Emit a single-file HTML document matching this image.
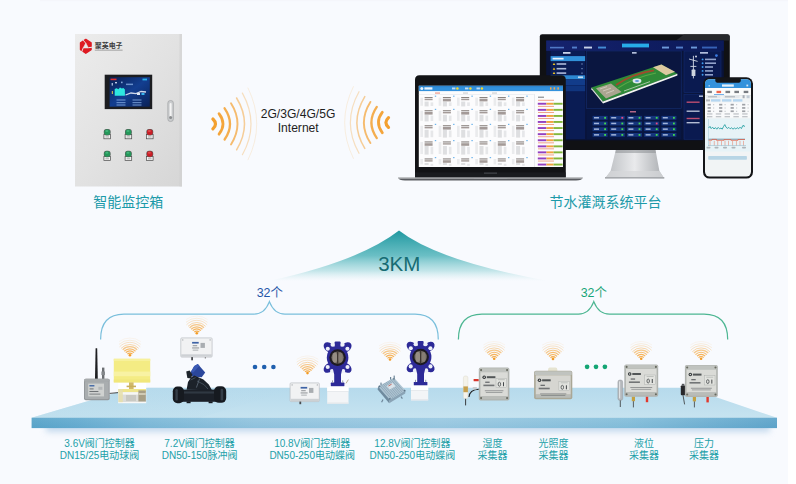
<!DOCTYPE html>
<html lang="zh"><head><meta charset="utf-8"><title>节水灌溉系统</title>
<style>
html,body{margin:0;padding:0;background:#fff;}
body{width:796px;height:484px;overflow:hidden;position:relative;font-family:"Liberation Sans",sans-serif;}
svg{position:absolute;left:0;top:0;display:block;}
svg text{font-family:"Liberation Sans","Noto Sans CJK SC",sans-serif;}
</style></head><body>
<svg width="796" height="484" viewBox="0 0 796 484"><defs>
<linearGradient id="gBox" x1="0" y1="0" x2="1" y2="1"><stop offset="0" stop-color="#ececec"/><stop offset="0.5" stop-color="#e2e2e2"/><stop offset="1" stop-color="#d6d6d6"/></linearGradient>
<linearGradient id="gScr" x1="0" y1="0" x2="1" y2="1"><stop offset="0" stop-color="#0a2054"/><stop offset="0.5" stop-color="#133e90"/><stop offset="1" stop-color="#0a2258"/></linearGradient>
<linearGradient id="gMtn" x1="0" y1="0" x2="0" y2="1"><stop offset="0" stop-color="#1f98a0"/><stop offset="0.5" stop-color="#5fbac0" stop-opacity="0.92"/><stop offset="0.8" stop-color="#a0d8dc" stop-opacity="0.6"/><stop offset="1" stop-color="#cfeaee" stop-opacity="0"/></linearGradient>
<linearGradient id="gTop" x1="0" y1="0" x2="0" y2="1"><stop offset="0" stop-color="#b6daec"/><stop offset="1" stop-color="#c6e3f0"/></linearGradient>
<linearGradient id="gFront" x1="0" y1="0" x2="1" y2="0"><stop offset="0" stop-color="#5aa5ca"/><stop offset="0.06" stop-color="#66acd0"/><stop offset="0.15" stop-color="#7db9d8"/><stop offset="0.3" stop-color="#94c5df"/><stop offset="0.55" stop-color="#9ccae2"/><stop offset="0.8" stop-color="#86bfdb"/><stop offset="1" stop-color="#5fa5cb"/></linearGradient>
<linearGradient id="gFrontV" x1="0" y1="0" x2="0" y2="1"><stop offset="0" stop-color="#ffffff" stop-opacity="0.06"/><stop offset="1" stop-color="#2a78a8" stop-opacity="0.06"/></linearGradient>
<linearGradient id="gTopL" x1="0" y1="0" x2="1" y2="0"><stop offset="0" stop-color="#b9dcec" stop-opacity="0.5"/><stop offset="1" stop-color="#b4d9ec" stop-opacity="0"/></linearGradient>
<filter id="fBlur" x="-5%" y="-100%" width="110%" height="300%"><feGaussianBlur stdDeviation="3"/></filter>
<linearGradient id="gShadow" x1="0" y1="0" x2="0" y2="1"><stop offset="0" stop-color="#a9cfe6" stop-opacity="0.8"/><stop offset="1" stop-color="#e6f0f8" stop-opacity="0"/></linearGradient>
<linearGradient id="gStand" x1="0" y1="0" x2="1" y2="0"><stop offset="0" stop-color="#b9bcc0"/><stop offset="0.5" stop-color="#e9eaec"/><stop offset="1" stop-color="#a9acb0"/></linearGradient>
<linearGradient id="gMon" x1="0" y1="0" x2="1" y2="1"><stop offset="0" stop-color="#07153a"/><stop offset="0.5" stop-color="#0a2050"/><stop offset="1" stop-color="#061234"/></linearGradient>
<linearGradient id="gGrey" x1="0" y1="0" x2="0" y2="1"><stop offset="0" stop-color="#c9cccb"/><stop offset="1" stop-color="#a9adac"/></linearGradient>
<radialGradient id="gMonGlow" cx="0.5" cy="0.55" r="0.6"><stop offset="0" stop-color="#1a3a8c" stop-opacity="0.35"/><stop offset="1" stop-color="#07102f" stop-opacity="0"/></radialGradient>
<linearGradient id="gMonHead" x1="0" y1="0" x2="1" y2="0"><stop offset="0" stop-color="#15236e"/><stop offset="0.5" stop-color="#101d62"/><stop offset="1" stop-color="#0b1a58"/></linearGradient>
</defs>
<rect x="0" y="0" width="788" height="484" fill="#f8fafe"/>
<rect x="788" y="0" width="8" height="484" fill="#ffffff"/>
<rect x="40" y="0" width="748" height="1.2" fill="#eef0f5" opacity="0.3"/>
<rect x="75" y="34" width="107" height="152.5" fill="url(#gBox)"/>
<rect x="179.5" y="34" width="2.5" height="152.5" fill="#d0d0d0" opacity="0.6"/>
<g transform="translate(85.8 46.3)"><path d="M5.28 3.45 L0.00 6.90 L-5.28 3.45 L-5.28 -3.45 L-0.00 -6.90 L5.28 -3.45Z" fill="#de1a22" stroke="#de1a22" stroke-width="1.4" stroke-linejoin="round"/><path d="M0.00 -3.30 L2.60 1.65 L-2.60 1.65Z" fill="#e9e9e9" stroke="#e9e9e9" stroke-width="0.6" stroke-linejoin="round"/><path d="M0 -3.0L-3.3 -7.0" stroke="#e9e9e9" stroke-width="0.9" transform="rotate(0)"/><path d="M0 -3.0L-3.3 -7.0" stroke="#e9e9e9" stroke-width="0.9" transform="rotate(120)"/><path d="M0 -3.0L-3.3 -7.0" stroke="#e9e9e9" stroke-width="0.9" transform="rotate(240)"/></g>
<text x="94.8" y="47.8" font-size="6.95" font-weight="bold" fill="#3c3c3c">聚英电子</text>
<rect x="94.8" y="49.6" width="27.8" height="1.2" fill="#6a6a6a" opacity="0.45"/>
<rect x="104.7" y="74.7" width="47.5" height="34.4" fill="#1c1d20"/>
<rect x="109.6" y="77.2" width="40.2" height="29.5" fill="url(#gScr)"/>
<path d="M114.7 95.8V89L116.6 88.2L118.4 89.2L120 87.6L121.8 88.6L123.4 88L124.9 89.4V95.8Z" fill="#2ee6e0"/>
<rect x="111.6" y="83" width="1.4" height="2.6" fill="#c8d6f0" opacity="0.8"/><rect x="115" y="82" width="2" height="1.4" fill="#dfe8fa" opacity="0.85"/><rect x="121" y="81.6" width="1.6" height="1.6" fill="#9fc0f0" opacity="0.8"/><rect x="126" y="83.6" width="7" height="1.5" fill="#7fa6de" opacity="0.8"/><rect x="111.8" y="91" width="1.2" height="3" fill="#e8d44a" opacity="0.8"/>
<rect x="110.5" y="78.6" width="6" height="1.6" fill="#e03030"/>
<rect x="142.5" y="78.6" width="4.5" height="1.8" fill="#28b0e8"/>
<path d="M125.5 95L131 93L136 93.6L141 91.5L146 92" stroke="#cfd8ea" stroke-width="1.3" fill="none"/>
<rect x="137" y="93" width="3" height="2" fill="#dfe8f5"/><rect x="141.5" y="93" width="3" height="2" fill="#38b6f0"/>
<rect x="116.5" y="99.4" width="9" height="1.2" fill="#7fa6de" opacity="0.75"/>
<rect x="116.5" y="102" width="9" height="1.2" fill="#7fa6de" opacity="0.75"/>
<rect x="116.5" y="104.4" width="9" height="1.2" fill="#7fa6de" opacity="0.75"/>
<rect x="132.5" y="99.4" width="9" height="1.2" fill="#7fa6de" opacity="0.75"/>
<rect x="132.5" y="102" width="9" height="1.2" fill="#7fa6de" opacity="0.75"/>
<rect x="132.5" y="104.4" width="9" height="1.2" fill="#7fa6de" opacity="0.75"/>
<rect x="167.8" y="100.5" width="5.6" height="21" rx="2.6" fill="#c9cbcd" stroke="#9a9c9e" stroke-width="0.6"/>
<rect x="169.6" y="103" width="2" height="14" rx="1" fill="#f4f4f4"/>
<circle cx="170.6" cy="117.5" r="1.5" fill="#8c8e90"/>
<rect x="103.9" y="134.6" width="6.6" height="4.2" fill="#f2f2f2" stroke="#4a4a4a" stroke-width="0.7"/>
<rect x="105.4" y="136.39999999999998" width="3.6" height="1.1" fill="#9a9a9a" opacity="0.7"/>
<rect x="103.8" y="129.0" width="6.8" height="6.4" rx="2.6" fill="#5a5f5c"/>
<rect x="104.3" y="129.39999999999998" width="5.8" height="5.6" rx="2.3" fill="#25975a"/>
<ellipse cx="106.8" cy="131.0" rx="1.5" ry="1" fill="#4fc088" opacity="0.7"/>
<rect x="103.9" y="156.4" width="6.6" height="4.2" fill="#f2f2f2" stroke="#4a4a4a" stroke-width="0.7"/>
<rect x="105.4" y="158.2" width="3.6" height="1.1" fill="#9a9a9a" opacity="0.7"/>
<rect x="103.8" y="150.8" width="6.8" height="6.4" rx="2.6" fill="#5a5f5c"/>
<rect x="104.3" y="151.2" width="5.8" height="5.6" rx="2.3" fill="#25975a"/>
<ellipse cx="106.8" cy="152.8" rx="1.5" ry="1" fill="#4fc088" opacity="0.7"/>
<rect x="125.10000000000001" y="134.6" width="6.6" height="4.2" fill="#f2f2f2" stroke="#4a4a4a" stroke-width="0.7"/>
<rect x="126.60000000000001" y="136.39999999999998" width="3.6" height="1.1" fill="#9a9a9a" opacity="0.7"/>
<rect x="125.0" y="129.0" width="6.8" height="6.4" rx="2.6" fill="#5a5f5c"/>
<rect x="125.5" y="129.39999999999998" width="5.8" height="5.6" rx="2.3" fill="#25975a"/>
<ellipse cx="128.0" cy="131.0" rx="1.5" ry="1" fill="#4fc088" opacity="0.7"/>
<rect x="125.10000000000001" y="156.4" width="6.6" height="4.2" fill="#f2f2f2" stroke="#4a4a4a" stroke-width="0.7"/>
<rect x="126.60000000000001" y="158.2" width="3.6" height="1.1" fill="#9a9a9a" opacity="0.7"/>
<rect x="125.0" y="150.8" width="6.8" height="6.4" rx="2.6" fill="#5a5f5c"/>
<rect x="125.5" y="151.2" width="5.8" height="5.6" rx="2.3" fill="#25975a"/>
<ellipse cx="128.0" cy="152.8" rx="1.5" ry="1" fill="#4fc088" opacity="0.7"/>
<rect x="146.5" y="134.6" width="6.6" height="4.2" fill="#f2f2f2" stroke="#4a4a4a" stroke-width="0.7"/>
<rect x="148.0" y="136.39999999999998" width="3.6" height="1.1" fill="#9a9a9a" opacity="0.7"/>
<rect x="146.4" y="129.0" width="6.8" height="6.4" rx="2.6" fill="#5a5f5c"/>
<rect x="146.9" y="129.39999999999998" width="5.8" height="5.6" rx="2.3" fill="#c81f28"/>
<ellipse cx="149.4" cy="131.0" rx="1.5" ry="1" fill="#ec5a5a" opacity="0.7"/>
<rect x="146.5" y="156.4" width="6.6" height="4.2" fill="#f2f2f2" stroke="#4a4a4a" stroke-width="0.7"/>
<rect x="148.0" y="158.2" width="3.6" height="1.1" fill="#9a9a9a" opacity="0.7"/>
<rect x="146.4" y="150.8" width="6.8" height="6.4" rx="2.6" fill="#5a5f5c"/>
<rect x="146.9" y="151.2" width="5.8" height="5.6" rx="2.3" fill="#c81f28"/>
<ellipse cx="149.4" cy="152.8" rx="1.5" ry="1" fill="#ec5a5a" opacity="0.7"/>
<text x="128.2" y="206.5" font-size="14" text-anchor="middle" fill="#1c9aa9">智能监控箱</text>
<path d="M212.9 119.0Q218.1 123.9 212.9 128.8" fill="none" stroke="#f3a030" stroke-width="3.2" stroke-linecap="round" opacity="1.0"/>
<path d="M388.5 117.6Q383.3 122.5 388.5 127.4" fill="none" stroke="#f3a030" stroke-width="3.2" stroke-linecap="round" opacity="1.0"/>
<path d="M219.0 113.6Q227.0 123.9 219.0 134.2" fill="none" stroke="#f3a030" stroke-width="2.7" stroke-linecap="round" opacity="0.95"/>
<path d="M382.4 112.2Q374.4 122.5 382.4 132.8" fill="none" stroke="#f3a030" stroke-width="2.7" stroke-linecap="round" opacity="0.95"/>
<path d="M224.6 108.3Q235.4 123.9 224.6 139.5" fill="none" stroke="#f3a030" stroke-width="2.3" stroke-linecap="round" opacity="0.85"/>
<path d="M376.8 106.9Q366.0 122.5 376.8 138.1" fill="none" stroke="#f3a030" stroke-width="2.3" stroke-linecap="round" opacity="0.85"/>
<path d="M231.0 103.3Q244.0 123.9 231.0 144.5" fill="none" stroke="#f3a030" stroke-width="1.9" stroke-linecap="round" opacity="0.7"/>
<path d="M370.4 101.9Q357.4 122.5 370.4 143.1" fill="none" stroke="#f3a030" stroke-width="1.9" stroke-linecap="round" opacity="0.7"/>
<path d="M236.6 98.0Q252.4 123.9 236.6 149.8" fill="none" stroke="#f3a030" stroke-width="1.5" stroke-linecap="round" opacity="0.5"/>
<path d="M364.8 96.6Q349.0 122.5 364.8 148.4" fill="none" stroke="#f3a030" stroke-width="1.5" stroke-linecap="round" opacity="0.5"/>
<path d="M242.4 93.1Q259.6 123.9 242.4 154.7" fill="none" stroke="#f3a030" stroke-width="1.2" stroke-linecap="round" opacity="0.3"/>
<path d="M359.0 91.7Q341.8 122.5 359.0 153.3" fill="none" stroke="#f3a030" stroke-width="1.2" stroke-linecap="round" opacity="0.3"/>
<path d="M248.0 88.0Q265.6 123.9 248.0 159.8" fill="none" stroke="#f3a030" stroke-width="1.0" stroke-linecap="round" opacity="0.15"/>
<path d="M353.4 86.6Q335.8 122.5 353.4 158.4" fill="none" stroke="#f3a030" stroke-width="1.0" stroke-linecap="round" opacity="0.15"/>
<text x="298" y="118.2" font-size="12.1" text-anchor="middle" fill="#1e1e1e">2G/3G/4G/5G</text>
<text x="298.2" y="131.7" font-size="12.1" text-anchor="middle" fill="#1e1e1e">Internet</text>
<rect x="539.8" y="34.2" width="190" height="115.8" rx="2.4" fill="#101114"/>
<path d="M684 34.6H727.6Q729.4 34.6 729.4 36.4V40.5H676Z" fill="#2a2b2f" opacity="0.9"/>
<rect x="546.2" y="40.5" width="177.6" height="99.8" fill="#091338"/>
<rect x="546.2" y="40.5" width="177.6" height="99.8" fill="url(#gMonGlow)"/>
<rect x="546.2" y="40.5" width="177.6" height="10.3" fill="url(#gMonHead)"/>
<rect x="622" y="43.6" width="27" height="3.8" fill="#29b4f0" opacity="0.95"/>
<rect x="550" y="46.8" width="14" height="1.6" fill="#5f8fdc" opacity="0.8"/>
<rect x="572" y="46.6" width="5" height="1.9" fill="#5f8fdc" opacity="0.85"/>
<rect x="584" y="46.6" width="8" height="1.9" fill="#e8f0ff" opacity="0.85"/>
<rect x="598" y="46.6" width="8" height="1.9" fill="#4fa0e8" opacity="0.85"/>
<rect x="662" y="46.6" width="7" height="1.9" fill="#7fb0f0" opacity="0.85"/>
<rect x="676" y="46.6" width="7" height="1.9" fill="#5f8fdc" opacity="0.85"/>
<rect x="691" y="46.6" width="6" height="1.9" fill="#7fb0f0" opacity="0.85"/>
<rect x="702" y="46.6" width="15" height="1.9" fill="#3f70c8" opacity="0.85"/>
<rect x="550.6" y="51" width="34.5" height="88" fill="#0a1c54"/>
<rect x="563" y="52" width="7.5" height="1.8" fill="#dfe8fa" opacity="0.9"/>
<rect x="550.6" y="56.1" width="34.5" height="5" fill="#3191da"/>
<rect x="552.6" y="57.8" width="11" height="1.7" fill="#eaf3fd"/>
<path d="M554 62.7L555.3 65H552.7Z" fill="#f4c81e"/><rect x="556.6" y="63.2" width="9.6" height="1.6" fill="#c9d6f0" opacity="0.85"/><rect x="581" y="63.5" width="2" height="1" fill="#7f98c8" opacity="0.7"/>
<path d="M554 67.4L555.3 69.7H552.7Z" fill="#f4c81e"/><rect x="556.6" y="67.9" width="9.6" height="1.6" fill="#c9d6f0" opacity="0.85"/><rect x="581" y="68.2" width="2" height="1" fill="#7f98c8" opacity="0.7"/>
<path d="M554 71.8L555.3 74.1H552.7Z" fill="#f4c81e"/><rect x="556.6" y="72.3" width="9.6" height="1.6" fill="#c9d6f0" opacity="0.85"/><rect x="581" y="72.6" width="2" height="1" fill="#7f98c8" opacity="0.7"/>
<rect x="550.6" y="75.3" width="34.5" height="4" fill="#2c88d2"/>
<rect x="578" y="76.4" width="5" height="1.7" fill="#cfe4f8" opacity="0.9"/>
<rect x="550.6" y="79.6" width="34.5" height="5.6" fill="#123c8a"/><rect x="550.6" y="85.6" width="34.5" height="5.6" fill="#10357e"/>
<rect x="586.6" y="51" width="94.6" height="57.6" fill="#0a1640" stroke="#16327a" stroke-width="0.5"/>
<rect x="632" y="52" width="4.6" height="1.7" fill="#d0dcf4" opacity="0.85"/>
<path d="M591.4 87.4L661.6 64.6L677.4 73.8L603 101.6Z" fill="#2f8a38"/>
<path d="M591.4 87.4L603 101.6L603 103.4L591.4 89.2Z" fill="#dfe5da"/>
<path d="M603 101.6L677.4 73.8L677.4 75.6L603 103.4Z" fill="#f4f6f0"/>
<path d="M653 67.3L661.4 64.6L675 71.8L666 75.2Z" fill="#dcc9a0"/>
<path d="M596 88.2L611 83.4L621.6 92L606 98.4Z" fill="#b8a79a" opacity="0.9"/>
<path d="M600 89L607 86.6M603 91L611 88.2M606 93.4L614 90.4" stroke="#d8cfc4" stroke-width="0.8"/>
<path d="M616 85Q632 74 654 70.4" stroke="#a04a2c" stroke-width="1.7" fill="none"/>
<path d="M618 88Q634 77.6 656 73" stroke="#63b04a" stroke-width="1.2" fill="none" opacity="0.8"/>
<ellipse cx="637" cy="81" rx="4.4" ry="2.4" fill="#dde6ee"/><ellipse cx="637" cy="81" rx="2" ry="1.1" fill="#5d95d8"/>
<path d="M624 91L650 81.6" stroke="#e6e9e0" stroke-width="0.8" opacity="0.8"/>
<rect x="586.6" y="109.6" width="94.6" height="29.6" fill="#081642"/>
<rect x="630" y="111" width="6" height="1.5" fill="#e07a9a" opacity="0.8"/>
<rect x="592.6" y="115.9" width="15" height="3.8" fill="#15357c"/>
<rect x="594.0" y="117.0" width="5" height="1.5" fill="#c5d4f0" opacity="0.8"/>
<rect x="604.2" y="116.9" width="1.8" height="1.8" fill="#42dc4c"/>
<rect x="609.8" y="115.9" width="15" height="3.8" fill="#15357c"/>
<rect x="611.2" y="117.0" width="5" height="1.5" fill="#c5d4f0" opacity="0.8"/>
<rect x="621.4" y="116.9" width="1.8" height="1.8" fill="#f04a80"/>
<rect x="627.0" y="115.9" width="15" height="3.8" fill="#15357c"/>
<rect x="628.4" y="117.0" width="5" height="1.5" fill="#c5d4f0" opacity="0.8"/>
<rect x="638.6" y="116.9" width="1.8" height="1.8" fill="#42dc4c"/>
<rect x="644.2" y="115.9" width="15" height="3.8" fill="#15357c"/>
<rect x="645.6" y="117.0" width="5" height="1.5" fill="#c5d4f0" opacity="0.8"/>
<rect x="655.8" y="116.9" width="1.8" height="1.8" fill="#42dc4c"/>
<rect x="661.4" y="115.9" width="15" height="3.8" fill="#15357c"/>
<rect x="662.8" y="117.0" width="5" height="1.5" fill="#c5d4f0" opacity="0.8"/>
<rect x="673.0" y="116.9" width="1.8" height="1.8" fill="#42dc4c"/>
<rect x="592.6" y="121.6" width="15" height="3.8" fill="#15357c"/>
<rect x="594.0" y="122.7" width="5" height="1.5" fill="#c5d4f0" opacity="0.8"/>
<rect x="604.2" y="122.6" width="1.8" height="1.8" fill="#42dc4c"/>
<rect x="609.8" y="121.6" width="15" height="3.8" fill="#15357c"/>
<rect x="611.2" y="122.7" width="5" height="1.5" fill="#c5d4f0" opacity="0.8"/>
<rect x="621.4" y="122.6" width="1.8" height="1.8" fill="#42dc4c"/>
<rect x="627.0" y="121.6" width="15" height="3.8" fill="#15357c"/>
<rect x="628.4" y="122.7" width="5" height="1.5" fill="#c5d4f0" opacity="0.8"/>
<rect x="638.6" y="122.6" width="1.8" height="1.8" fill="#42dc4c"/>
<rect x="644.2" y="121.6" width="15" height="3.8" fill="#15357c"/>
<rect x="645.6" y="122.7" width="5" height="1.5" fill="#c5d4f0" opacity="0.8"/>
<rect x="655.8" y="122.6" width="1.8" height="1.8" fill="#f04a80"/>
<rect x="661.4" y="121.6" width="15" height="3.8" fill="#15357c"/>
<rect x="662.8" y="122.7" width="5" height="1.5" fill="#c5d4f0" opacity="0.8"/>
<rect x="673.0" y="122.6" width="1.8" height="1.8" fill="#42dc4c"/>
<rect x="592.6" y="127.3" width="15" height="3.8" fill="#15357c"/>
<rect x="594.0" y="128.4" width="5" height="1.5" fill="#c5d4f0" opacity="0.8"/>
<rect x="604.2" y="128.3" width="1.8" height="1.8" fill="#42dc4c"/>
<rect x="609.8" y="127.3" width="15" height="3.8" fill="#15357c"/>
<rect x="611.2" y="128.4" width="5" height="1.5" fill="#c5d4f0" opacity="0.8"/>
<rect x="621.4" y="128.3" width="1.8" height="1.8" fill="#42dc4c"/>
<rect x="627.0" y="127.3" width="15" height="3.8" fill="#15357c"/>
<rect x="628.4" y="128.4" width="5" height="1.5" fill="#c5d4f0" opacity="0.8"/>
<rect x="638.6" y="128.3" width="1.8" height="1.8" fill="#42dc4c"/>
<rect x="644.2" y="127.3" width="15" height="3.8" fill="#15357c"/>
<rect x="645.6" y="128.4" width="5" height="1.5" fill="#c5d4f0" opacity="0.8"/>
<rect x="655.8" y="128.3" width="1.8" height="1.8" fill="#42dc4c"/>
<rect x="661.4" y="127.3" width="15" height="3.8" fill="#15357c"/>
<rect x="662.8" y="128.4" width="5" height="1.5" fill="#c5d4f0" opacity="0.8"/>
<rect x="673.0" y="128.3" width="1.8" height="1.8" fill="#42dc4c"/>
<rect x="592.6" y="133.0" width="15" height="3.8" fill="#15357c"/>
<rect x="594.0" y="134.1" width="5" height="1.5" fill="#c5d4f0" opacity="0.8"/>
<rect x="604.2" y="134.0" width="1.8" height="1.8" fill="#42dc4c"/>
<rect x="609.8" y="133.0" width="15" height="3.8" fill="#15357c"/>
<rect x="611.2" y="134.1" width="5" height="1.5" fill="#c5d4f0" opacity="0.8"/>
<rect x="621.4" y="134.0" width="1.8" height="1.8" fill="#42dc4c"/>
<rect x="627.0" y="133.0" width="15" height="3.8" fill="#15357c"/>
<rect x="628.4" y="134.1" width="5" height="1.5" fill="#c5d4f0" opacity="0.8"/>
<rect x="638.6" y="134.0" width="1.8" height="1.8" fill="#42dc4c"/>
<rect x="644.2" y="133.0" width="15" height="3.8" fill="#15357c"/>
<rect x="645.6" y="134.1" width="5" height="1.5" fill="#c5d4f0" opacity="0.8"/>
<rect x="655.8" y="134.0" width="1.8" height="1.8" fill="#42dc4c"/>
<rect x="661.4" y="133.0" width="15" height="3.8" fill="#15357c"/>
<rect x="662.8" y="134.1" width="5" height="1.5" fill="#c5d4f0" opacity="0.8"/>
<rect x="673.0" y="134.0" width="1.8" height="1.8" fill="#42dc4c"/>
<rect x="684" y="51" width="37" height="41.6" fill="#0a1a50" stroke="#142e74" stroke-width="0.5"/>
<rect x="700" y="52" width="8" height="1.7" fill="#d0dcf4" opacity="0.85"/>
<path d="M693.4 55.8V78.4M689 59L697.6 61.4M690.4 66.4H696.4" stroke="#d4dae6" stroke-width="0.9" fill="none"/>
<circle cx="696" cy="56.6" r="1" fill="#d4dae6"/><rect x="691.6" y="69.6" width="3.8" height="6.4" rx="0.6" fill="#cfd5df"/>
<circle cx="702.6" cy="59.4" r="0.95" fill="#3f9df0"/><rect x="705" y="58.6" width="11" height="1.6" fill="#b4c6ea" opacity="0.8"/>
<circle cx="702.6" cy="63.2" r="0.95" fill="#3f9df0"/><rect x="705" y="62.4" width="11" height="1.6" fill="#b4c6ea" opacity="0.8"/>
<circle cx="702.6" cy="67" r="0.95" fill="#3f9df0"/><rect x="705" y="66.2" width="8" height="1.6" fill="#b4c6ea" opacity="0.8"/>
<circle cx="702.6" cy="70.9" r="0.95" fill="#3f9df0"/><rect x="705" y="70.1" width="8" height="1.6" fill="#b4c6ea" opacity="0.8"/>
<circle cx="702.6" cy="74.8" r="0.95" fill="#3f9df0"/><rect x="705" y="74.0" width="8" height="1.6" fill="#b4c6ea" opacity="0.8"/>
<circle cx="716.4" cy="55.6" r="1.4" fill="#3a7be0"/>
<rect x="684" y="94.4" width="37" height="44.8" fill="#0a1a50" stroke="#142e74" stroke-width="0.5"/>
<rect x="699" y="95.4" width="8" height="1.6" fill="#d0dcf4" opacity="0.8"/>
<rect x="686.6" y="101.5" width="13" height="1.4" fill="#e85a78" opacity="0.8"/>
<rect x="686.6" y="110.5" width="13" height="1.4" fill="#dfe6f5" opacity="0.8"/>
<rect x="686.6" y="117.8" width="13" height="1.4" fill="#e85a78" opacity="0.8"/>
<rect x="686.6" y="122" width="13" height="1.4" fill="#dfe6f5" opacity="0.8"/>
<path d="M615.8 150H655.5L659.4 171L664.3 178.4H605L610.6 171Z" fill="url(#gStand)"/>
<path d="M615.8 150H655.5L656 153H615.3Z" fill="#8d9094" opacity="0.55"/>
<path d="M605 178.4L610.6 171H659.4L664.3 178.4Z" fill="#d5d7da" opacity="0.75"/>
<rect x="605" y="177" width="59.3" height="1.4" fill="#a5a8ac"/>
<path d="M415 177.4V79.8Q415 75.3 419.5 75.3H561.3Q565.8 75.3 565.8 79.8V177.4Z" fill="#121316"/>
<rect x="418.8" y="85.8" width="144.2" height="81.2" fill="#fcfcfd"/>
<rect x="418.8" y="85.8" width="144.2" height="5.3" fill="#3391dc"/>
<rect x="418.8" y="85.8" width="144.2" height="1.4" fill="#2a7fc8" opacity="0.6"/>
<circle cx="421.8" cy="88.4" r="1.5" fill="#eaf4fd"/><rect x="424.4" y="87.3" width="8" height="2.3" fill="#eaf4fd"/>
<rect x="452" y="87.5" width="3.4" height="1.9" fill="#d6e8f8" opacity="0.85"/><circle cx="457.4" cy="88.5" r="1.25" fill="#f5d830"/>
<rect x="465" y="87.5" width="3.4" height="1.9" fill="#d6e8f8" opacity="0.85"/><circle cx="470.4" cy="88.5" r="1.25" fill="#f5d830"/>
<rect x="476.5" y="87.5" width="3.4" height="1.9" fill="#d6e8f8" opacity="0.85"/><circle cx="481.9" cy="88.5" r="1.25" fill="#f5d830"/>
<rect x="550" y="87.3" width="1.5" height="2.3" fill="#f3a84a"/>
<rect x="553.6" y="87.3" width="1.5" height="2.3" fill="#f3a84a"/>
<rect x="557.4" y="87.3" width="1.5" height="2.3" fill="#f3a84a"/>
<rect x="435" y="92.6" width="5" height="0.9" fill="#e0563c" opacity="0.8"/><rect x="463" y="92.6" width="5" height="0.9" fill="#9a9ca0" opacity="0.6"/><rect x="492" y="92.6" width="5" height="0.9" fill="#9a9ca0" opacity="0.6"/>
<rect x="418.8" y="94.2" width="115" height="0.4" fill="#d8dde3"/>
<rect x="434.8" y="95.6" width="1.4" height="1.2" fill="#4aa3e8" opacity="0.8"/>
<rect x="424.6" y="97.0" width="8" height="1.1" fill="#6d6460" opacity="0.8"/>
<rect x="424.6" y="98.8" width="8" height="1.4" fill="#857a76" opacity="0.75"/>
<rect x="424.6" y="101.6" width="4" height="4.8" fill="#bfc1c6" opacity="0.5"/>
<rect x="430.6" y="102.4" width="2.6" height="3.6" fill="#cfd1d5" opacity="0.5"/>
<rect x="420.4" y="97.6" width="2.6" height="8.2" fill="#c8cacf" opacity="0.35"/>
<rect x="453.1" y="95.6" width="1.4" height="1.2" fill="#4aa3e8" opacity="0.8"/>
<rect x="442.9" y="97.0" width="8" height="1.1" fill="#6d6460" opacity="0.8"/>
<rect x="442.9" y="98.8" width="8" height="2.6" fill="#857a76" opacity="0.75"/>
<rect x="442.9" y="101.6" width="4" height="4.8" fill="#bfc1c6" opacity="0.5"/>
<rect x="448.9" y="102.4" width="2.6" height="3.6" fill="#cfd1d5" opacity="0.5"/>
<rect x="438.7" y="97.6" width="2.6" height="8.2" fill="#c8cacf" opacity="0.35"/>
<rect x="471.4" y="95.6" width="1.4" height="1.2" fill="#4aa3e8" opacity="0.8"/>
<rect x="461.2" y="97.0" width="8" height="1.1" fill="#6d6460" opacity="0.8"/>
<rect x="461.2" y="98.8" width="8" height="1.4" fill="#857a76" opacity="0.75"/>
<rect x="461.2" y="101.6" width="4" height="4.8" fill="#bfc1c6" opacity="0.5"/>
<rect x="467.2" y="102.4" width="2.6" height="3.6" fill="#cfd1d5" opacity="0.5"/>
<rect x="457.0" y="97.6" width="2.6" height="8.2" fill="#c8cacf" opacity="0.35"/>
<rect x="489.7" y="95.6" width="1.4" height="1.2" fill="#4aa3e8" opacity="0.8"/>
<rect x="479.5" y="97.0" width="8" height="1.1" fill="#6d6460" opacity="0.8"/>
<rect x="479.5" y="98.8" width="8" height="2.6" fill="#857a76" opacity="0.75"/>
<rect x="479.5" y="101.6" width="4" height="4.8" fill="#bfc1c6" opacity="0.5"/>
<rect x="485.5" y="102.4" width="2.6" height="3.6" fill="#cfd1d5" opacity="0.5"/>
<rect x="475.3" y="97.6" width="2.6" height="8.2" fill="#c8cacf" opacity="0.35"/>
<rect x="508.0" y="95.6" width="1.4" height="1.2" fill="#4aa3e8" opacity="0.8"/>
<rect x="497.8" y="97.0" width="8" height="1.1" fill="#6d6460" opacity="0.8"/>
<rect x="497.8" y="98.8" width="8" height="1.4" fill="#857a76" opacity="0.75"/>
<rect x="497.8" y="101.6" width="4" height="4.8" fill="#bfc1c6" opacity="0.5"/>
<rect x="503.8" y="102.4" width="2.6" height="3.6" fill="#cfd1d5" opacity="0.5"/>
<rect x="493.6" y="97.6" width="2.6" height="8.2" fill="#c8cacf" opacity="0.35"/>
<rect x="526.3" y="95.6" width="1.4" height="1.2" fill="#4aa3e8" opacity="0.8"/>
<rect x="516.1" y="97.0" width="8" height="1.1" fill="#6d6460" opacity="0.8"/>
<rect x="516.1" y="98.8" width="8" height="2.6" fill="#857a76" opacity="0.75"/>
<rect x="516.1" y="101.6" width="4" height="4.8" fill="#bfc1c6" opacity="0.5"/>
<rect x="522.1" y="102.4" width="2.6" height="3.6" fill="#cfd1d5" opacity="0.5"/>
<rect x="511.9" y="97.6" width="2.6" height="8.2" fill="#c8cacf" opacity="0.35"/>
<rect x="434.8" y="108.8" width="1.4" height="1.2" fill="#4aa3e8" opacity="0.8"/>
<rect x="424.6" y="110.2" width="8" height="1.1" fill="#6d6460" opacity="0.8"/>
<rect x="424.6" y="112.0" width="8" height="2.6" fill="#857a76" opacity="0.75"/>
<rect x="424.6" y="114.8" width="4" height="6.6" fill="#bfc1c6" opacity="0.5"/>
<rect x="430.6" y="115.6" width="2.6" height="5.4" fill="#cfd1d5" opacity="0.5"/>
<rect x="420.4" y="110.8" width="2.6" height="10.0" fill="#c8cacf" opacity="0.35"/>
<rect x="453.1" y="108.8" width="1.4" height="1.2" fill="#4aa3e8" opacity="0.8"/>
<rect x="442.9" y="110.2" width="8" height="1.1" fill="#6d6460" opacity="0.8"/>
<rect x="442.9" y="112.0" width="8" height="1.4" fill="#857a76" opacity="0.75"/>
<rect x="442.9" y="114.8" width="4" height="6.6" fill="#bfc1c6" opacity="0.5"/>
<rect x="448.9" y="115.6" width="2.6" height="5.4" fill="#cfd1d5" opacity="0.5"/>
<rect x="438.7" y="110.8" width="2.6" height="10.0" fill="#c8cacf" opacity="0.35"/>
<rect x="471.4" y="108.8" width="1.4" height="1.2" fill="#4aa3e8" opacity="0.8"/>
<rect x="461.2" y="110.2" width="8" height="1.1" fill="#6d6460" opacity="0.8"/>
<rect x="461.2" y="112.0" width="8" height="2.6" fill="#857a76" opacity="0.75"/>
<rect x="461.2" y="114.8" width="4" height="6.6" fill="#bfc1c6" opacity="0.5"/>
<rect x="467.2" y="115.6" width="2.6" height="5.4" fill="#cfd1d5" opacity="0.5"/>
<rect x="457.0" y="110.8" width="2.6" height="10.0" fill="#c8cacf" opacity="0.35"/>
<rect x="489.7" y="108.8" width="1.4" height="1.2" fill="#4aa3e8" opacity="0.8"/>
<rect x="479.5" y="110.2" width="8" height="1.1" fill="#6d6460" opacity="0.8"/>
<rect x="479.5" y="112.0" width="8" height="1.4" fill="#857a76" opacity="0.75"/>
<rect x="479.5" y="114.8" width="4" height="6.6" fill="#bfc1c6" opacity="0.5"/>
<rect x="485.5" y="115.6" width="2.6" height="5.4" fill="#cfd1d5" opacity="0.5"/>
<rect x="475.3" y="110.8" width="2.6" height="10.0" fill="#c8cacf" opacity="0.35"/>
<rect x="508.0" y="108.8" width="1.4" height="1.2" fill="#4aa3e8" opacity="0.8"/>
<rect x="497.8" y="110.2" width="8" height="1.1" fill="#6d6460" opacity="0.8"/>
<rect x="497.8" y="112.0" width="8" height="2.6" fill="#857a76" opacity="0.75"/>
<rect x="497.8" y="114.8" width="4" height="6.6" fill="#bfc1c6" opacity="0.5"/>
<rect x="503.8" y="115.6" width="2.6" height="5.4" fill="#cfd1d5" opacity="0.5"/>
<rect x="493.6" y="110.8" width="2.6" height="10.0" fill="#c8cacf" opacity="0.35"/>
<rect x="526.3" y="108.8" width="1.4" height="1.2" fill="#4aa3e8" opacity="0.8"/>
<rect x="516.1" y="110.2" width="8" height="1.1" fill="#6d6460" opacity="0.8"/>
<rect x="516.1" y="112.0" width="8" height="1.4" fill="#857a76" opacity="0.75"/>
<rect x="516.1" y="114.8" width="4" height="6.6" fill="#bfc1c6" opacity="0.5"/>
<rect x="522.1" y="115.6" width="2.6" height="5.4" fill="#cfd1d5" opacity="0.5"/>
<rect x="511.9" y="110.8" width="2.6" height="10.0" fill="#c8cacf" opacity="0.35"/>
<rect x="434.8" y="123.8" width="1.4" height="1.2" fill="#4aa3e8" opacity="0.8"/>
<rect x="424.6" y="125.2" width="8" height="1.1" fill="#6d6460" opacity="0.8"/>
<rect x="424.6" y="127.0" width="8" height="1.4" fill="#857a76" opacity="0.75"/>
<rect x="424.6" y="129.8" width="4" height="7.8" fill="#bfc1c6" opacity="0.5"/>
<rect x="430.6" y="130.6" width="2.6" height="6.6" fill="#cfd1d5" opacity="0.5"/>
<rect x="420.4" y="125.8" width="2.6" height="11.2" fill="#c8cacf" opacity="0.35"/>
<rect x="453.1" y="123.8" width="1.4" height="1.2" fill="#4aa3e8" opacity="0.8"/>
<rect x="442.9" y="125.2" width="8" height="1.1" fill="#6d6460" opacity="0.8"/>
<rect x="442.9" y="127.0" width="8" height="2.6" fill="#857a76" opacity="0.75"/>
<rect x="442.9" y="129.8" width="4" height="7.8" fill="#bfc1c6" opacity="0.5"/>
<rect x="448.9" y="130.6" width="2.6" height="6.6" fill="#cfd1d5" opacity="0.5"/>
<rect x="438.7" y="125.8" width="2.6" height="11.2" fill="#c8cacf" opacity="0.35"/>
<rect x="471.4" y="123.8" width="1.4" height="1.2" fill="#4aa3e8" opacity="0.8"/>
<rect x="461.2" y="125.2" width="8" height="1.1" fill="#6d6460" opacity="0.8"/>
<rect x="461.2" y="127.0" width="8" height="1.4" fill="#857a76" opacity="0.75"/>
<rect x="461.2" y="129.8" width="4" height="7.8" fill="#bfc1c6" opacity="0.5"/>
<rect x="467.2" y="130.6" width="2.6" height="6.6" fill="#cfd1d5" opacity="0.5"/>
<rect x="457.0" y="125.8" width="2.6" height="11.2" fill="#c8cacf" opacity="0.35"/>
<rect x="489.7" y="123.8" width="1.4" height="1.2" fill="#4aa3e8" opacity="0.8"/>
<rect x="479.5" y="125.2" width="8" height="1.1" fill="#6d6460" opacity="0.8"/>
<rect x="479.5" y="127.0" width="8" height="2.6" fill="#857a76" opacity="0.75"/>
<rect x="479.5" y="129.8" width="4" height="7.8" fill="#bfc1c6" opacity="0.5"/>
<rect x="485.5" y="130.6" width="2.6" height="6.6" fill="#cfd1d5" opacity="0.5"/>
<rect x="475.3" y="125.8" width="2.6" height="11.2" fill="#c8cacf" opacity="0.35"/>
<rect x="508.0" y="123.8" width="1.4" height="1.2" fill="#4aa3e8" opacity="0.8"/>
<rect x="497.8" y="125.2" width="8" height="1.1" fill="#6d6460" opacity="0.8"/>
<rect x="497.8" y="127.0" width="8" height="1.4" fill="#857a76" opacity="0.75"/>
<rect x="497.8" y="129.8" width="4" height="7.8" fill="#bfc1c6" opacity="0.5"/>
<rect x="503.8" y="130.6" width="2.6" height="6.6" fill="#cfd1d5" opacity="0.5"/>
<rect x="493.6" y="125.8" width="2.6" height="11.2" fill="#c8cacf" opacity="0.35"/>
<rect x="526.3" y="123.8" width="1.4" height="1.2" fill="#4aa3e8" opacity="0.8"/>
<rect x="516.1" y="125.2" width="8" height="1.1" fill="#6d6460" opacity="0.8"/>
<rect x="516.1" y="127.0" width="8" height="2.6" fill="#857a76" opacity="0.75"/>
<rect x="516.1" y="129.8" width="4" height="7.8" fill="#bfc1c6" opacity="0.5"/>
<rect x="522.1" y="130.6" width="2.6" height="6.6" fill="#cfd1d5" opacity="0.5"/>
<rect x="511.9" y="125.8" width="2.6" height="11.2" fill="#c8cacf" opacity="0.35"/>
<rect x="434.8" y="140.0" width="1.4" height="1.2" fill="#4aa3e8" opacity="0.8"/>
<rect x="424.6" y="141.4" width="8" height="1.1" fill="#6d6460" opacity="0.8"/>
<rect x="424.6" y="143.2" width="8" height="2.6" fill="#857a76" opacity="0.75"/>
<rect x="424.6" y="146.0" width="4" height="8.6" fill="#bfc1c6" opacity="0.5"/>
<rect x="430.6" y="146.8" width="2.6" height="7.4" fill="#cfd1d5" opacity="0.5"/>
<rect x="420.4" y="142.0" width="2.6" height="12.0" fill="#c8cacf" opacity="0.35"/>
<rect x="453.1" y="140.0" width="1.4" height="1.2" fill="#4aa3e8" opacity="0.8"/>
<rect x="442.9" y="141.4" width="8" height="1.1" fill="#6d6460" opacity="0.8"/>
<rect x="442.9" y="143.2" width="8" height="1.4" fill="#857a76" opacity="0.75"/>
<rect x="442.9" y="146.0" width="4" height="8.6" fill="#bfc1c6" opacity="0.5"/>
<rect x="448.9" y="146.8" width="2.6" height="7.4" fill="#cfd1d5" opacity="0.5"/>
<rect x="438.7" y="142.0" width="2.6" height="12.0" fill="#c8cacf" opacity="0.35"/>
<rect x="471.4" y="140.0" width="1.4" height="1.2" fill="#4aa3e8" opacity="0.8"/>
<rect x="461.2" y="141.4" width="8" height="1.1" fill="#6d6460" opacity="0.8"/>
<rect x="461.2" y="143.2" width="8" height="2.6" fill="#857a76" opacity="0.75"/>
<rect x="461.2" y="146.0" width="4" height="8.6" fill="#bfc1c6" opacity="0.5"/>
<rect x="467.2" y="146.8" width="2.6" height="7.4" fill="#cfd1d5" opacity="0.5"/>
<rect x="457.0" y="142.0" width="2.6" height="12.0" fill="#c8cacf" opacity="0.35"/>
<rect x="489.7" y="140.0" width="1.4" height="1.2" fill="#4aa3e8" opacity="0.8"/>
<rect x="479.5" y="141.4" width="8" height="1.1" fill="#6d6460" opacity="0.8"/>
<rect x="479.5" y="143.2" width="8" height="1.4" fill="#857a76" opacity="0.75"/>
<rect x="479.5" y="146.0" width="4" height="8.6" fill="#bfc1c6" opacity="0.5"/>
<rect x="485.5" y="146.8" width="2.6" height="7.4" fill="#cfd1d5" opacity="0.5"/>
<rect x="475.3" y="142.0" width="2.6" height="12.0" fill="#c8cacf" opacity="0.35"/>
<rect x="508.0" y="140.0" width="1.4" height="1.2" fill="#4aa3e8" opacity="0.8"/>
<rect x="497.8" y="141.4" width="8" height="1.1" fill="#6d6460" opacity="0.8"/>
<rect x="497.8" y="143.2" width="8" height="2.6" fill="#857a76" opacity="0.75"/>
<rect x="497.8" y="146.0" width="4" height="8.6" fill="#bfc1c6" opacity="0.5"/>
<rect x="503.8" y="146.8" width="2.6" height="7.4" fill="#cfd1d5" opacity="0.5"/>
<rect x="493.6" y="142.0" width="2.6" height="12.0" fill="#c8cacf" opacity="0.35"/>
<rect x="526.3" y="140.0" width="1.4" height="1.2" fill="#4aa3e8" opacity="0.8"/>
<rect x="516.1" y="141.4" width="8" height="1.1" fill="#6d6460" opacity="0.8"/>
<rect x="516.1" y="143.2" width="8" height="1.4" fill="#857a76" opacity="0.75"/>
<rect x="516.1" y="146.0" width="4" height="8.6" fill="#bfc1c6" opacity="0.5"/>
<rect x="522.1" y="146.8" width="2.6" height="7.4" fill="#cfd1d5" opacity="0.5"/>
<rect x="511.9" y="142.0" width="2.6" height="12.0" fill="#c8cacf" opacity="0.35"/>
<rect x="434.8" y="157.0" width="1.4" height="1.2" fill="#4aa3e8" opacity="0.8"/>
<rect x="424.6" y="158.4" width="8" height="1.1" fill="#6d6460" opacity="0.8"/>
<rect x="424.6" y="160.2" width="8" height="1.4" fill="#857a76" opacity="0.75"/>
<rect x="424.6" y="163.0" width="4" height="2.0" fill="#bfc1c6" opacity="0.5"/>
<rect x="430.6" y="163.8" width="2.6" height="2.0" fill="#cfd1d5" opacity="0.5"/>
<rect x="420.4" y="159.0" width="2.6" height="5.4" fill="#c8cacf" opacity="0.35"/>
<rect x="453.1" y="157.0" width="1.4" height="1.2" fill="#4aa3e8" opacity="0.8"/>
<rect x="442.9" y="158.4" width="8" height="1.1" fill="#6d6460" opacity="0.8"/>
<rect x="442.9" y="160.2" width="8" height="2.6" fill="#857a76" opacity="0.75"/>
<rect x="442.9" y="163.0" width="4" height="2.0" fill="#bfc1c6" opacity="0.5"/>
<rect x="448.9" y="163.8" width="2.6" height="2.0" fill="#cfd1d5" opacity="0.5"/>
<rect x="438.7" y="159.0" width="2.6" height="5.4" fill="#c8cacf" opacity="0.35"/>
<rect x="471.4" y="157.0" width="1.4" height="1.2" fill="#4aa3e8" opacity="0.8"/>
<rect x="461.2" y="158.4" width="8" height="1.1" fill="#6d6460" opacity="0.8"/>
<rect x="461.2" y="160.2" width="8" height="1.4" fill="#857a76" opacity="0.75"/>
<rect x="461.2" y="163.0" width="4" height="2.0" fill="#bfc1c6" opacity="0.5"/>
<rect x="467.2" y="163.8" width="2.6" height="2.0" fill="#cfd1d5" opacity="0.5"/>
<rect x="457.0" y="159.0" width="2.6" height="5.4" fill="#c8cacf" opacity="0.35"/>
<rect x="489.7" y="157.0" width="1.4" height="1.2" fill="#4aa3e8" opacity="0.8"/>
<rect x="479.5" y="158.4" width="8" height="1.1" fill="#6d6460" opacity="0.8"/>
<rect x="479.5" y="160.2" width="8" height="2.6" fill="#857a76" opacity="0.75"/>
<rect x="479.5" y="163.0" width="4" height="2.0" fill="#bfc1c6" opacity="0.5"/>
<rect x="485.5" y="163.8" width="2.6" height="2.0" fill="#cfd1d5" opacity="0.5"/>
<rect x="475.3" y="159.0" width="2.6" height="5.4" fill="#c8cacf" opacity="0.35"/>
<rect x="508.0" y="157.0" width="1.4" height="1.2" fill="#4aa3e8" opacity="0.8"/>
<rect x="497.8" y="158.4" width="8" height="1.1" fill="#6d6460" opacity="0.8"/>
<rect x="497.8" y="160.2" width="8" height="1.4" fill="#857a76" opacity="0.75"/>
<rect x="497.8" y="163.0" width="4" height="2.0" fill="#bfc1c6" opacity="0.5"/>
<rect x="503.8" y="163.8" width="2.6" height="2.0" fill="#cfd1d5" opacity="0.5"/>
<rect x="493.6" y="159.0" width="2.6" height="5.4" fill="#c8cacf" opacity="0.35"/>
<rect x="526.3" y="157.0" width="1.4" height="1.2" fill="#4aa3e8" opacity="0.8"/>
<rect x="516.1" y="158.4" width="8" height="1.1" fill="#6d6460" opacity="0.8"/>
<rect x="516.1" y="160.2" width="8" height="2.6" fill="#857a76" opacity="0.75"/>
<rect x="516.1" y="163.0" width="4" height="2.0" fill="#bfc1c6" opacity="0.5"/>
<rect x="522.1" y="163.8" width="2.6" height="2.0" fill="#cfd1d5" opacity="0.5"/>
<rect x="511.9" y="159.0" width="2.6" height="5.4" fill="#c8cacf" opacity="0.35"/>
<rect x="534.4" y="94" width="0.5" height="73" fill="#d4d9df"/>
<rect x="538" y="96.6" width="6" height="1.3" fill="#7a7d82" opacity="0.8"/>
<rect x="538" y="99.8" width="16" height="0.9" fill="#e8663c" opacity="0.65"/>
<rect x="537.8" y="102.8" width="8.6" height="1.9" fill="#9440c0"/><rect x="546.4" y="102.8" width="7.2" height="1.9" fill="#f0a23c"/><rect x="553.6" y="102.8" width="9" height="1.9" fill="#84b83c"/>
<rect x="538" y="105.9" width="16" height="0.9" fill="#e8663c" opacity="0.65"/>
<rect x="537.8" y="108.9" width="8.6" height="1.9" fill="#9440c0"/><rect x="546.4" y="108.9" width="7.2" height="1.9" fill="#f0a23c"/><rect x="553.6" y="108.9" width="9" height="1.9" fill="#84b83c"/>
<rect x="538" y="112.0" width="16" height="0.9" fill="#e8663c" opacity="0.65"/>
<rect x="537.8" y="115.0" width="8.6" height="1.9" fill="#9440c0"/><rect x="546.4" y="115.0" width="7.2" height="1.9" fill="#f0a23c"/><rect x="553.6" y="115.0" width="9" height="1.9" fill="#84b83c"/>
<rect x="538" y="118.0" width="16" height="0.9" fill="#e8663c" opacity="0.65"/>
<rect x="537.8" y="121.0" width="8.6" height="1.9" fill="#9440c0"/><rect x="546.4" y="121.0" width="7.2" height="1.9" fill="#f0a23c"/><rect x="553.6" y="121.0" width="9" height="1.9" fill="#84b83c"/>
<rect x="538" y="124.1" width="16" height="0.9" fill="#e8663c" opacity="0.65"/>
<rect x="537.8" y="127.1" width="8.6" height="1.9" fill="#9440c0"/><rect x="546.4" y="127.1" width="7.2" height="1.9" fill="#f0a23c"/><rect x="553.6" y="127.1" width="9" height="1.9" fill="#84b83c"/>
<rect x="538" y="130.2" width="16" height="0.9" fill="#e8663c" opacity="0.65"/>
<rect x="537.8" y="133.2" width="8.6" height="1.9" fill="#9440c0"/><rect x="546.4" y="133.2" width="7.2" height="1.9" fill="#f0a23c"/><rect x="553.6" y="133.2" width="9" height="1.9" fill="#84b83c"/>
<rect x="538" y="136.3" width="16" height="0.9" fill="#e8663c" opacity="0.65"/>
<rect x="537.8" y="139.3" width="8.6" height="1.9" fill="#9440c0"/><rect x="546.4" y="139.3" width="7.2" height="1.9" fill="#f0a23c"/><rect x="553.6" y="139.3" width="9" height="1.9" fill="#84b83c"/>
<rect x="538" y="142.4" width="16" height="0.9" fill="#e8663c" opacity="0.65"/>
<rect x="537.8" y="145.4" width="8.6" height="1.9" fill="#9440c0"/><rect x="546.4" y="145.4" width="7.2" height="1.9" fill="#f0a23c"/><rect x="553.6" y="145.4" width="9" height="1.9" fill="#84b83c"/>
<rect x="538" y="148.4" width="16" height="0.9" fill="#e8663c" opacity="0.65"/>
<rect x="537.8" y="151.4" width="8.6" height="1.9" fill="#9440c0"/><rect x="546.4" y="151.4" width="7.2" height="1.9" fill="#f0a23c"/><rect x="553.6" y="151.4" width="9" height="1.9" fill="#84b83c"/>
<rect x="538" y="154.5" width="16" height="0.9" fill="#e8663c" opacity="0.65"/>
<rect x="537.8" y="157.5" width="8.6" height="1.9" fill="#9440c0"/><rect x="546.4" y="157.5" width="7.2" height="1.9" fill="#f0a23c"/><rect x="553.6" y="157.5" width="9" height="1.9" fill="#84b83c"/>
<rect x="538" y="160.6" width="16" height="0.9" fill="#e8663c" opacity="0.65"/>
<rect x="537.8" y="163.6" width="8.6" height="1.9" fill="#9440c0"/><rect x="546.4" y="163.6" width="7.2" height="1.9" fill="#f0a23c"/><rect x="553.6" y="163.6" width="9" height="1.9" fill="#84b83c"/>
<path d="M398 177.5H582.8Q582.4 180.4 576 180.4H405Q398.6 180.4 398 177.5Z" fill="#5a5c61"/>
<path d="M398 177.4H582.8V178.5H398.4Z" fill="#dcdde0"/>
<rect x="473.5" y="177.4" width="34" height="1.3" rx="0.6" fill="#a2a4a8"/>
<rect x="415" y="172.4" width="150.8" height="5" fill="#1c1f24" opacity="0.7"/>
<rect x="484" y="172.6" width="13" height="1" fill="#5a5d62" opacity="0.8"/>
<rect x="703" y="77.2" width="50" height="101.4" rx="6.6" fill="#141518"/>
<rect x="705" y="79.2" width="46" height="97.4" rx="4.8" fill="#f1f4f5"/>
<path d="M705 88.1V84Q705 79.2 709.8 79.2H746.2Q751 79.2 751 84V88.1Z" fill="#3392dc"/>
<path d="M715.3 79H740.8V80.2Q740.8 82.8 737.6 82.8H718.5Q715.3 82.8 715.3 80.2Z" fill="#141518"/>
<rect x="722" y="84.4" width="11.8" height="2.3" fill="#ecf5fd" opacity="0.95"/><rect x="708.6" y="85" width="1.2" height="1.6" fill="#d6e9fa" opacity="0.8"/><rect x="746.4" y="84.6" width="1.8" height="1.8" fill="#e6f1fb" opacity="0.9"/>
<rect x="705" y="88.1" width="46" height="7" fill="#fbfcfc"/>
<rect x="707.3" y="90.8" width="4.6" height="2.3" fill="#60656c" opacity="0.85"/>
<rect x="716.5" y="90.8" width="4.6" height="2.3" fill="#ef4a2a" opacity="0.85"/>
<rect x="725.5" y="90.8" width="4.6" height="2.3" fill="#60656c" opacity="0.85"/>
<rect x="734.4" y="90.8" width="4.6" height="2.3" fill="#60656c" opacity="0.85"/>
<rect x="743.7" y="90.8" width="4.6" height="2.3" fill="#60656c" opacity="0.85"/>
<rect x="714" y="94.2" width="10" height="0.7" fill="#3a8fe0"/>
<rect x="705" y="95" width="46" height="0.4" fill="#d4dade"/>
<rect x="706.4" y="95.6" width="14" height="2.4" fill="#e4e8ec"/><rect x="708" y="96.3" width="9" height="1" fill="#9aa0a8" opacity="0.8"/><rect x="723.6" y="95.6" width="16" height="2.4" fill="#e4e8ec"/><rect x="725" y="96.3" width="10" height="1" fill="#9aa0a8" opacity="0.8"/><rect x="742.6" y="95.2" width="2" height="3" fill="#a7adb5"/><rect x="746.6" y="95.4" width="3" height="2.8" fill="#c2ccd6"/>
<rect x="706" y="99.4" width="4" height="2" fill="#8a9098" opacity="0.6"/><rect x="711" y="99.2" width="9.4" height="2.4" fill="#b5d6f0"/><rect x="722" y="99.2" width="9.4" height="2.4" fill="#b5d6f0"/><rect x="733" y="99.2" width="9.4" height="2.4" fill="#b5d6f0"/>
<rect x="705" y="102.6" width="46" height="15" fill="#f9fafb"/>
<rect x="707.6" y="103.8" width="3.2" height="1.7" fill="#6d727a" opacity="0.65"/><rect x="713.0" y="104.2" width="1.2" height="1" fill="#8a9098" opacity="0.5"/>
<rect x="719.1" y="103.8" width="3.2" height="1.7" fill="#6d727a" opacity="0.65"/><rect x="724.5" y="104.2" width="1.2" height="1" fill="#8a9098" opacity="0.5"/>
<rect x="730.6" y="103.8" width="3.2" height="1.7" fill="#6d727a" opacity="0.65"/><rect x="736.0" y="104.2" width="1.2" height="1" fill="#8a9098" opacity="0.5"/>
<rect x="742.1" y="103.8" width="3.2" height="1.7" fill="#6d727a" opacity="0.65"/><rect x="747.5" y="104.2" width="1.2" height="1" fill="#8a9098" opacity="0.5"/>
<rect x="707.6" y="107.1" width="3.2" height="1.7" fill="#6d727a" opacity="0.65"/><rect x="713.0" y="107.5" width="1.2" height="1" fill="#8a9098" opacity="0.5"/>
<rect x="719.1" y="107.1" width="3.2" height="1.7" fill="#6d727a" opacity="0.65"/><rect x="724.5" y="107.5" width="1.2" height="1" fill="#8a9098" opacity="0.5"/>
<rect x="730.6" y="107.1" width="3.2" height="1.7" fill="#6d727a" opacity="0.65"/><rect x="736.0" y="107.5" width="1.2" height="1" fill="#8a9098" opacity="0.5"/>
<rect x="742.1" y="107.1" width="3.2" height="1.7" fill="#6d727a" opacity="0.65"/><rect x="747.5" y="107.5" width="1.2" height="1" fill="#8a9098" opacity="0.5"/>
<rect x="707.6" y="110.4" width="3.2" height="1.7" fill="#6d727a" opacity="0.65"/><rect x="713.0" y="110.8" width="1.2" height="1" fill="#8a9098" opacity="0.5"/>
<rect x="719.1" y="110.4" width="3.2" height="1.7" fill="#6d727a" opacity="0.65"/><rect x="724.5" y="110.8" width="1.2" height="1" fill="#8a9098" opacity="0.5"/>
<rect x="730.6" y="110.4" width="3.2" height="1.7" fill="#6d727a" opacity="0.65"/><rect x="736.0" y="110.8" width="1.2" height="1" fill="#8a9098" opacity="0.5"/>
<rect x="742.1" y="110.4" width="3.2" height="1.7" fill="#6d727a" opacity="0.65"/><rect x="747.5" y="110.8" width="1.2" height="1" fill="#8a9098" opacity="0.5"/>
<rect x="707.0" y="113.3" width="5.4" height="1.3" fill="#8a9098" opacity="0.5"/>
<rect x="715.8" y="113.3" width="5.4" height="1.3" fill="#8a9098" opacity="0.5"/>
<rect x="724.6" y="113.3" width="5.4" height="1.3" fill="#8a9098" opacity="0.5"/>
<rect x="733.4" y="113.3" width="5.4" height="1.3" fill="#8a9098" opacity="0.5"/>
<rect x="742.2" y="113.3" width="5.4" height="1.3" fill="#8a9098" opacity="0.5"/>
<rect x="707.0" y="116.0" width="5.4" height="1.3" fill="#8a9098" opacity="0.5"/>
<rect x="715.8" y="116.0" width="5.4" height="1.3" fill="#8a9098" opacity="0.5"/>
<rect x="724.6" y="116.0" width="5.4" height="1.3" fill="#8a9098" opacity="0.5"/>
<rect x="733.4" y="116.0" width="5.4" height="1.3" fill="#8a9098" opacity="0.5"/>
<rect x="742.2" y="116.0" width="5.4" height="1.3" fill="#8a9098" opacity="0.5"/>
<rect x="705" y="118.6" width="46" height="33" fill="#e7f3f7"/>
<rect x="708" y="119" width="0.5" height="27" fill="#9cc6d4"/>
<path d="M708.6 128L710 126.4L711.2 128.6L712.6 127.2L714 129L715.4 127.6L716.8 129.2L718.2 127.4L719.6 128.8L721 128L722.2 129.2L723.6 126.4L724.8 124.6L726 127.2L727.4 128.4L728.8 127.4L730.2 128.8L731.6 127.8L733 129.2L734.4 128L735.8 129L737.2 127.6L738.6 128.8L740 127.2L741.4 128.6L742.6 126L743.6 125L744.4 127" stroke="#27a0a4" stroke-width="0.9" fill="none"/>
<path d="M708.6 139.2H745" stroke="#3a7f9c" stroke-width="0.7" fill="none"/>
<path d="M708.6 140.2H712V139.4H716.5V140.3H724V139.6H731V140.3H738V139.5H745" stroke="#e4553a" stroke-width="0.7" fill="none"/>
<rect x="709.65" y="140.8" width="0.7" height="4.8" fill="#e58a74" opacity="0.85"/>
<rect x="713.85" y="140.8" width="0.7" height="4.8" fill="#e58a74" opacity="0.85"/>
<rect x="717.45" y="140.8" width="0.7" height="4.8" fill="#e58a74" opacity="0.85"/>
<rect x="721.05" y="140.8" width="0.7" height="4.8" fill="#e58a74" opacity="0.85"/>
<rect x="724.65" y="140.8" width="0.7" height="4.8" fill="#e58a74" opacity="0.85"/>
<rect x="728.15" y="140.8" width="0.7" height="4.8" fill="#e58a74" opacity="0.85"/>
<rect x="732.35" y="140.8" width="0.7" height="4.8" fill="#e58a74" opacity="0.85"/>
<rect x="735.95" y="140.8" width="0.7" height="4.8" fill="#e58a74" opacity="0.85"/>
<rect x="739.65" y="140.8" width="0.7" height="4.8" fill="#e58a74" opacity="0.85"/>
<rect x="743.15" y="140.8" width="0.7" height="4.8" fill="#e58a74" opacity="0.85"/>
<rect x="708" y="145.5" width="38" height="0.5" fill="#8fb7c6"/>
<rect x="706.5" y="146.8" width="4" height="1.7" rx="0.8" fill="#9aa0a6" opacity="0.75"/>
<rect x="714.5" y="146.8" width="4" height="1.7" rx="0.8" fill="#9aa0a6" opacity="0.75"/>
<rect x="723" y="146.8" width="4" height="1.7" rx="0.8" fill="#9aa0a6" opacity="0.75"/>
<rect x="731.5" y="146.8" width="4" height="1.7" rx="0.8" fill="#9aa0a6" opacity="0.75"/>
<rect x="742" y="146.8" width="4" height="1.7" rx="0.8" fill="#9aa0a6" opacity="0.75"/>
<rect x="708.2" y="156.1" width="38.7" height="3.6" rx="0.6" fill="#b7d5e5"/>
<text x="605.5" y="206.5" font-size="14" text-anchor="middle" fill="#1c9aa9">节水灌溉系统平台</text>
<path d="M399 230.6Q438 261 548 281H269Q360 261 399 230.6Z" fill="url(#gMtn)"/>
<text x="399.3" y="270.6" font-size="20.5" text-anchor="middle" fill="#166c73">3KM</text>
<path d="M100.6 339.5Q100.6 314.1 124 314.1H254Q264.6 314.1 269.4 301.6Q274.2 314.1 285 314.1H415Q438.3 314.1 438.3 339.5" fill="none" stroke="#7abfdc" stroke-width="1.25"/>
<path d="M458.4 339.5Q458.4 314.1 482 314.1H578.4Q589 314.1 593.8 301.6Q598.6 314.1 609.4 314.1H704Q727.7 314.1 727.7 339.5" fill="none" stroke="#4cb692" stroke-width="1.25"/>
<text x="269.8" y="296.8" font-size="12.4" text-anchor="middle" fill="#1f56a8">32个</text>
<text x="593.8" y="296.8" font-size="12.4" text-anchor="middle" fill="#17a578">32个</text>
<rect x="46" y="423" width="724" height="9" fill="#a3c4e2" filter="url(#fBlur)" opacity="0.6"/>
<path d="M31.6 417.8L111 394.2Q128 388 148 387.7H686Q692 387.8 698 391L777 417.8Z" fill="url(#gTop)"/>
<path d="M31.6 417.8L111 394.2Q128 388 148 387.7H300L200 417.8Z" fill="url(#gTopL)"/>
<rect x="31.6" y="417.7" width="745.4" height="10.4" fill="url(#gFront)"/>
<rect x="31.6" y="417.7" width="745.4" height="10.4" fill="url(#gFrontV)"/>
<circle cx="255" cy="367" r="2.3" fill="#1f5fae"/>
<circle cx="264.2" cy="367" r="2.3" fill="#1f5fae"/>
<circle cx="273.4" cy="367" r="2.3" fill="#1f5fae"/>
<circle cx="587.1" cy="366.8" r="2.35" fill="#14a574"/>
<circle cx="596" cy="366.8" r="2.35" fill="#14a574"/>
<circle cx="604.9" cy="366.8" r="2.35" fill="#14a574"/>
<path d="M95.6 348.2H97.2L97.8 379H95Z" fill="#1e1f22"/>
<rect x="102" y="367.6" width="2.4" height="11.4" fill="#6b6f73"/><rect x="101.4" y="371.5" width="3.6" height="3.6" fill="#85898d"/>
<rect x="84" y="378.7" width="25.7" height="21.5" rx="1.8" fill="#94989b"/>
<rect x="84" y="378.7" width="25.7" height="3" rx="1.5" fill="#a7abad"/>
<rect x="85" y="381.6" width="23.7" height="17.4" rx="1" fill="#a9adaf"/>
<rect x="88.2" y="383.6" width="15.8" height="12.8" fill="#cfd1d0"/>
<rect x="89.4" y="385" width="5" height="1.5" fill="#4a6ea8"/><rect x="89.6" y="388.4" width="4" height="1" fill="#6f7376"/><rect x="89.4" y="391" width="9" height="1" fill="#6f7376"/><rect x="89.4" y="393.6" width="11" height="1" fill="#7d8184"/><rect x="98.4" y="386.8" width="4" height="3" fill="#b4b7b8"/>
<path d="M109.7 393.4L118.4 392.6" stroke="#3a3a3a" stroke-width="0.9"/>
<circle cx="129.9" cy="355.3" r="1.30" fill="#f29c26"/><path d="M127.41 354.18A3.40 3.40 0 0 1 132.39 354.18" fill="none" stroke="#f6aa44" stroke-width="1.15" opacity="0.95"/><path d="M125.84 352.71A5.55 5.55 0 0 1 133.96 352.71" fill="none" stroke="#f6aa44" stroke-width="1.15" opacity="0.88"/><path d="M124.27 351.25A7.70 7.70 0 0 1 135.53 351.25" fill="none" stroke="#f6aa44" stroke-width="1.15" opacity="0.78"/><path d="M122.70 349.78A9.85 9.85 0 0 1 137.10 349.78" fill="none" stroke="#f6aa44" stroke-width="1.15" opacity="0.62"/><path d="M121.12 348.32A12.00 12.00 0 0 1 138.68 348.32" fill="none" stroke="#f6aa44" stroke-width="1.00" opacity="0.45"/><path d="M119.55 346.85A14.15 14.15 0 0 1 140.25 346.85" fill="none" stroke="#f6aa44" stroke-width="1.00" opacity="0.30"/><path d="M119.10 344.29A16.30 16.30 0 0 1 140.70 344.29" fill="none" stroke="#f6aa44" stroke-width="1.00" opacity="0.18"/><path d="M119.10 341.54A18.45 18.45 0 0 1 140.70 341.54" fill="none" stroke="#f6aa44" stroke-width="1.00" opacity="0.09"/>
<rect x="118.2" y="382.4" width="28" height="20.8" fill="#ffffff"/>
<rect x="113.8" y="358.8" width="36.4" height="23.6" fill="#f4ec84"/>
<rect x="113.8" y="358.8" width="36.4" height="2.2" fill="#f7f19c"/>
<rect x="113.8" y="371.6" width="36.4" height="4.6" fill="#f8f3a6" opacity="0.9"/>
<rect x="113.8" y="379.6" width="36.4" height="2.8" fill="#f1e77a"/>
<rect x="129" y="382.4" width="4.6" height="6.6" fill="#d2b968"/><rect x="126.6" y="385.6" width="9.4" height="1.6" fill="#c9ae5c"/>
<rect x="118.4" y="389" width="27.6" height="13.2" fill="#dcdcd8"/>
<rect x="118.4" y="389" width="27.6" height="3.2" fill="#efe58c"/>
<rect x="118.4" y="392.2" width="27.6" height="2.4" fill="#f7f7f4"/>
<rect x="118.4" y="389" width="4.4" height="13.2" fill="#e6dfae" opacity="0.9"/>
<rect x="138.4" y="390.4" width="7.4" height="11" fill="#a79f86"/><rect x="138.4" y="393" width="7.4" height="2" fill="#d0cab4"/>
<rect x="126" y="395" width="10" height="6" fill="#c4c4be" opacity="0.8"/>
<circle cx="196.8" cy="333.3" r="1.30" fill="#f29c26"/><path d="M194.31 332.18A3.40 3.40 0 0 1 199.29 332.18" fill="none" stroke="#f6aa44" stroke-width="1.15" opacity="0.95"/><path d="M192.74 330.71A5.55 5.55 0 0 1 200.86 330.71" fill="none" stroke="#f6aa44" stroke-width="1.15" opacity="0.88"/><path d="M191.17 329.25A7.70 7.70 0 0 1 202.43 329.25" fill="none" stroke="#f6aa44" stroke-width="1.15" opacity="0.78"/><path d="M189.60 327.78A9.85 9.85 0 0 1 204.00 327.78" fill="none" stroke="#f6aa44" stroke-width="1.15" opacity="0.62"/><path d="M188.02 326.32A12.00 12.00 0 0 1 205.58 326.32" fill="none" stroke="#f6aa44" stroke-width="1.00" opacity="0.45"/><path d="M186.45 324.85A14.15 14.15 0 0 1 207.15 324.85" fill="none" stroke="#f6aa44" stroke-width="1.00" opacity="0.30"/><path d="M186.00 322.29A16.30 16.30 0 0 1 207.60 322.29" fill="none" stroke="#f6aa44" stroke-width="1.00" opacity="0.18"/><path d="M186.00 319.54A18.45 18.45 0 0 1 207.60 319.54" fill="none" stroke="#f6aa44" stroke-width="1.00" opacity="0.09"/>
<rect x="180.8" y="337.9" width="31.3" height="19.2" rx="1" fill="#f1f2f3" stroke="#b9bdc1" stroke-width="0.7"/><rect x="181.20000000000002" y="354.3" width="30.5" height="2.4" fill="#cdd1d4"/><rect x="192.1" y="341.9" width="6.6" height="1.7" fill="#3d63a6"/><rect x="192.7" y="345.3" width="4.5" height="0.9" fill="#82868a"/><rect x="192.1" y="347.5" width="7" height="0.9" fill="#82868a"/><rect x="192.7" y="349.7" width="5.6" height="0.8" fill="#9a9ea2"/><rect x="200.5" y="342.9" width="4.4" height="5" fill="#a9adb1"/><circle cx="182.8" cy="339.9" r="0.6" fill="#9a9ea2"/><circle cx="210.1" cy="339.9" r="0.6" fill="#9a9ea2"/>
<rect x="191.2" y="357.1" width="1.8" height="3.2" fill="#4a4d50"/><rect x="204.8" y="357.1" width="1" height="1.4" fill="#777"/>
<path d="M194.3 366L197.8 364L205.2 372.4L201.7 377.2L191.8 376.6L190.8 371.9Z" fill="#2b479c"/>
<path d="M194.3 366L197.8 364L199.4 365.8L193.4 372.6L190.8 371.9Z" fill="#3a59b4"/>
<path d="M186.2 371.4L189.6 370.6L192.4 374.6L191 378.6L187.4 378Z" fill="#1d232b"/>
<path d="M186.6 389.8L188 382L191 377.6L194.4 375.6L199 377.6L203.4 379.4L208.8 384.6L212 390.2Z" fill="#1c222a"/>
<path d="M190.6 380L195.6 377.6M197 381L204 384.6L208 389" stroke="#414d59" stroke-width="1" fill="none"/>
<path d="M199.6 378.6L196.4 387.6" stroke="#566270" stroke-width="0.9"/>
<rect x="182" y="389.6" width="34" height="12.2" fill="#1b2028"/>
<rect x="184" y="391.4" width="30" height="2.2" fill="#2f3842"/>
<rect x="172.8" y="386.6" width="11.2" height="16.6" rx="4.6" fill="#161a20"/><rect x="214" y="386.3" width="12.2" height="16.5" rx="4.8" fill="#161a20"/>
<rect x="175.4" y="389" width="2.4" height="11.6" rx="1.2" fill="#343d47"/><rect x="220.6" y="388.8" width="2.6" height="11.6" rx="1.2" fill="#343d47"/>
<rect x="186.6" y="401.4" width="4" height="1.8" fill="#161a20"/><rect x="208.6" y="401.4" width="4" height="1.8" fill="#161a20"/>
<circle cx="307.5" cy="373.1" r="1.30" fill="#f29c26"/><path d="M305.01 371.98A3.40 3.40 0 0 1 309.99 371.98" fill="none" stroke="#f6aa44" stroke-width="1.15" opacity="0.95"/><path d="M303.44 370.51A5.55 5.55 0 0 1 311.56 370.51" fill="none" stroke="#f6aa44" stroke-width="1.15" opacity="0.88"/><path d="M301.87 369.05A7.70 7.70 0 0 1 313.13 369.05" fill="none" stroke="#f6aa44" stroke-width="1.15" opacity="0.78"/><path d="M300.30 367.58A9.85 9.85 0 0 1 314.70 367.58" fill="none" stroke="#f6aa44" stroke-width="1.15" opacity="0.62"/><path d="M298.72 366.12A12.00 12.00 0 0 1 316.28 366.12" fill="none" stroke="#f6aa44" stroke-width="1.00" opacity="0.45"/><path d="M297.15 364.65A14.15 14.15 0 0 1 317.85 364.65" fill="none" stroke="#f6aa44" stroke-width="1.00" opacity="0.30"/><path d="M296.70 362.09A16.30 16.30 0 0 1 318.30 362.09" fill="none" stroke="#f6aa44" stroke-width="1.00" opacity="0.18"/><path d="M296.70 359.34A18.45 18.45 0 0 1 318.30 359.34" fill="none" stroke="#f6aa44" stroke-width="1.00" opacity="0.09"/>
<rect x="290.1" y="382.9" width="29.2" height="18.7" rx="1" fill="#f1f2f3" stroke="#b9bdc1" stroke-width="0.7"/><rect x="290.5" y="398.8" width="28.4" height="2.4" fill="#cdd1d4"/><rect x="300.6" y="386.9" width="6.6" height="1.7" fill="#3d63a6"/><rect x="301.2" y="390.3" width="4.5" height="0.9" fill="#82868a"/><rect x="300.6" y="392.5" width="7" height="0.9" fill="#82868a"/><rect x="301.2" y="394.7" width="5.6" height="0.8" fill="#9a9ea2"/><rect x="309.0" y="387.9" width="4.4" height="5" fill="#a9adb1"/><circle cx="292.1" cy="384.9" r="0.6" fill="#9a9ea2"/><circle cx="317.3" cy="384.9" r="0.6" fill="#9a9ea2"/>
<rect x="299.4" y="401.6" width="1.8" height="2.6" fill="#4a4d50"/>
<path d="M346 383.4L348.4 379.6" stroke="#b5a98a" stroke-width="0.9"/>
<ellipse cx="329.0" cy="347.4" rx="6" ry="4.3" transform="rotate(40 329.0 347.4)" fill="#2d2a98"/><ellipse cx="346.2" cy="347.4" rx="6" ry="4.3" transform="rotate(-40 346.2 347.4)" fill="#2d2a98"/><ellipse cx="329.0" cy="367.8" rx="6" ry="4.3" transform="rotate(-40 329.0 367.8)" fill="#2d2a98"/><ellipse cx="346.2" cy="367.8" rx="6" ry="4.3" transform="rotate(40 346.2 367.8)" fill="#2d2a98"/><ellipse cx="337.6" cy="357.6" rx="10.8" ry="11.6" fill="#2d2a98"/><rect x="334.6" y="341.6" width="6" height="6" rx="1" fill="#2d2a98"/><circle cx="327.8" cy="348.8" r="2.05" fill="#eef1f9"/><circle cx="332.6" cy="344.8" r="2.05" fill="#eef1f9"/><circle cx="342.6" cy="344.8" r="2.05" fill="#eef1f9"/><circle cx="347.4" cy="348.8" r="2.05" fill="#eef1f9"/><circle cx="327.7" cy="367.0" r="2.05" fill="#eef1f9"/><circle cx="332.0" cy="371.0" r="2.05" fill="#eef1f9"/><circle cx="343.2" cy="371.0" r="2.05" fill="#eef1f9"/><circle cx="347.5" cy="367.0" r="2.05" fill="#eef1f9"/><circle cx="337.6" cy="357.6" r="8.3" fill="#1d1a22"/><circle cx="337.6" cy="357.6" r="6.2" fill="#6f6861"/><ellipse cx="334.90000000000003" cy="357.6" rx="2.4" ry="5.2" fill="#958d83"/><ellipse cx="340.5" cy="357.6" rx="2.2" ry="5" fill="#857d74"/><rect x="337.0" y="351.3" width="1.2" height="12.6" fill="#3d3630"/><path d="M332.6 367.6L334.20000000000005 374.6V383.4H341.0V374.6L342.6 367.6Z" fill="#2d2a98"/><rect x="330.8" y="382.59999999999997" width="13.6" height="3.8" rx="0.6" fill="#2d2a98"/><rect x="332.0" y="380.4" width="0.9" height="2.4" fill="#8b8fa0"/><rect x="342.3" y="380.4" width="0.9" height="2.4" fill="#8b8fa0"/><rect x="327.2" y="386.6" width="21.3" height="17.1" fill="#f3f5f7"/><rect x="327.2" y="386.6" width="21.3" height="4.4" fill="#ffffff"/><rect x="327.2" y="391.0" width="21.3" height="0.6" fill="#dfe3e7"/><rect x="327.2" y="402.5" width="21.3" height="1.2" fill="#e3e7ea"/>
<circle cx="390" cy="359.5" r="1.30" fill="#f29c26"/><path d="M387.51 358.38A3.40 3.40 0 0 1 392.49 358.38" fill="none" stroke="#f6aa44" stroke-width="1.15" opacity="0.95"/><path d="M385.94 356.91A5.55 5.55 0 0 1 394.06 356.91" fill="none" stroke="#f6aa44" stroke-width="1.15" opacity="0.88"/><path d="M384.37 355.45A7.70 7.70 0 0 1 395.63 355.45" fill="none" stroke="#f6aa44" stroke-width="1.15" opacity="0.78"/><path d="M382.80 353.98A9.85 9.85 0 0 1 397.20 353.98" fill="none" stroke="#f6aa44" stroke-width="1.15" opacity="0.62"/><path d="M381.22 352.52A12.00 12.00 0 0 1 398.78 352.52" fill="none" stroke="#f6aa44" stroke-width="1.00" opacity="0.45"/><path d="M379.65 351.05A14.15 14.15 0 0 1 400.35 351.05" fill="none" stroke="#f6aa44" stroke-width="1.00" opacity="0.30"/><path d="M379.20 348.49A16.30 16.30 0 0 1 400.80 348.49" fill="none" stroke="#f6aa44" stroke-width="1.00" opacity="0.18"/><path d="M379.20 345.74A18.45 18.45 0 0 1 400.80 345.74" fill="none" stroke="#f6aa44" stroke-width="1.00" opacity="0.09"/>
<path d="M378.2 386.4L394 377.8L405.6 390.6L389.8 399.8Z" fill="#adc3d1"/>
<path d="M378.2 386.4L389.8 399.8L389.2 403.2L377.59999999999997 389.59999999999997Z" fill="#6f8a9e"/>
<path d="M389.8 399.8L405.6 390.6L405.20000000000005 393.6L389.2 403.2Z" fill="#8aa3b5"/>
<path d="M379.8 385.5L391.4 398.9" stroke="#8199ac" stroke-width="0.7" opacity="0.85"/>
<path d="M381.4 384.7L393.0 398.0" stroke="#8199ac" stroke-width="0.7" opacity="0.85"/>
<path d="M382.9 383.8L394.5 397.0" stroke="#8199ac" stroke-width="0.7" opacity="0.85"/>
<path d="M384.5 383.0L396.1 396.1" stroke="#8199ac" stroke-width="0.7" opacity="0.85"/>
<path d="M386.1 382.1L397.7 395.2" stroke="#8199ac" stroke-width="0.7" opacity="0.85"/>
<path d="M387.7 381.2L399.3 394.3" stroke="#8199ac" stroke-width="0.7" opacity="0.85"/>
<path d="M389.3 380.4L400.9 393.4" stroke="#8199ac" stroke-width="0.7" opacity="0.85"/>
<path d="M390.8 379.5L402.4 392.4" stroke="#8199ac" stroke-width="0.7" opacity="0.85"/>
<path d="M392.4 378.7L404.0 391.5" stroke="#8199ac" stroke-width="0.7" opacity="0.85"/>
<path d="M386.6 386L392.4 382.8L395.6 386.2L389.8 389.6Z" fill="#d9e3ea"/>
<path d="M388.4 386L391.6 384.2" stroke="#b8483c" stroke-width="0.8"/>
<circle cx="379.4" cy="386.4" r="0.9" fill="#5f7688"/><circle cx="394" cy="378.8" r="0.9" fill="#5f7688"/><circle cx="404.6" cy="390.6" r="0.9" fill="#5f7688"/><circle cx="389.8" cy="398.8" r="0.9" fill="#5f7688"/>
<rect x="380.4" y="382.6" width="1.2" height="2.6" fill="#6d8598"/><rect x="390" y="377" width="1.2" height="2.6" fill="#6d8598"/><rect x="393.6" y="375.6" width="1.2" height="2.6" fill="#6d8598"/>
<path d="M383 399.4L381.6 402.2M401 396.6L402.4 398.6" stroke="#6d8598" stroke-width="1.2"/>
<ellipse cx="412.0" cy="346.8" rx="6" ry="4.3" transform="rotate(40 412.0 346.8)" fill="#2d2a98"/><ellipse cx="429.2" cy="346.8" rx="6" ry="4.3" transform="rotate(-40 429.2 346.8)" fill="#2d2a98"/><ellipse cx="412.0" cy="367.2" rx="6" ry="4.3" transform="rotate(-40 412.0 367.2)" fill="#2d2a98"/><ellipse cx="429.2" cy="367.2" rx="6" ry="4.3" transform="rotate(40 429.2 367.2)" fill="#2d2a98"/><ellipse cx="420.6" cy="357" rx="10.8" ry="11.6" fill="#2d2a98"/><rect x="417.6" y="341" width="6" height="6" rx="1" fill="#2d2a98"/><circle cx="410.8" cy="348.2" r="2.05" fill="#eef1f9"/><circle cx="415.6" cy="344.2" r="2.05" fill="#eef1f9"/><circle cx="425.6" cy="344.2" r="2.05" fill="#eef1f9"/><circle cx="430.4" cy="348.2" r="2.05" fill="#eef1f9"/><circle cx="410.7" cy="366.4" r="2.05" fill="#eef1f9"/><circle cx="415.0" cy="370.4" r="2.05" fill="#eef1f9"/><circle cx="426.2" cy="370.4" r="2.05" fill="#eef1f9"/><circle cx="430.5" cy="366.4" r="2.05" fill="#eef1f9"/><circle cx="420.6" cy="357" r="8.3" fill="#1d1a22"/><circle cx="420.6" cy="357" r="6.2" fill="#6f6861"/><ellipse cx="417.90000000000003" cy="357" rx="2.4" ry="5.2" fill="#958d83"/><ellipse cx="423.5" cy="357" rx="2.2" ry="5" fill="#857d74"/><rect x="420.0" y="350.7" width="1.2" height="12.6" fill="#3d3630"/><path d="M415.6 367L417.20000000000005 374V382.8H424.0V374L425.6 367Z" fill="#2d2a98"/><rect x="413.8" y="382.0" width="13.6" height="3.8" rx="0.6" fill="#2d2a98"/><rect x="415.0" y="379.8" width="0.9" height="2.4" fill="#8b8fa0"/><rect x="425.3" y="379.8" width="0.9" height="2.4" fill="#8b8fa0"/><rect x="411" y="385.6" width="17.2" height="14.8" fill="#f3f5f7"/><rect x="411" y="385.6" width="17.2" height="4.4" fill="#ffffff"/><rect x="411" y="390.0" width="17.2" height="0.6" fill="#dfe3e7"/><rect x="411" y="399.2" width="17.2" height="1.2" fill="#e3e7ea"/>
<rect x="463.4" y="376" width="4.5" height="22.8" rx="1.8" fill="#f4f2ea" stroke="#d8d4c6" stroke-width="0.4"/><rect x="463.4" y="386.4" width="4.5" height="5.8" fill="#c6a04e"/>
<path d="M465.6 398.8V405.4" stroke="#2a2a2a" stroke-width="0.9" fill="none"/><path d="M469 397Q469.6 389.6 478.8 389.2" stroke="#1e1e1e" stroke-width="1.1" fill="none"/>
<rect x="473.6" y="379" width="5.2" height="2.3" rx="0.6" fill="#d8362c"/><rect x="472.6" y="387" width="4.4" height="2.4" rx="0.8" fill="#c9cccf"/>
<rect x="478.8" y="367.6" width="30.6" height="33.0" rx="1.8" fill="#b0b3af"/><rect x="479.40000000000003" y="368.20000000000005" width="29.4" height="3.8" rx="1.2" fill="#c0c3bf"/><rect x="480.40000000000003" y="372.20000000000005" width="27.4" height="23.8" fill="#dadbd7"/><rect x="480.40000000000003" y="396.0" width="27.4" height="3.2" fill="#b9bcb8"/><circle cx="481.1" cy="370.1" r="1.05" fill="#66695f"/><circle cx="507.1" cy="370.1" r="1.05" fill="#66695f"/><circle cx="481.1" cy="398.1" r="1.05" fill="#66695f"/><circle cx="507.1" cy="398.1" r="1.05" fill="#66695f"/><circle cx="484.2" cy="377.2" r="1.75" fill="#2f3336"/><circle cx="484.2" cy="377.2" r="0.75" fill="#dadbd7"/><rect x="486.8" y="376.2" width="8.6" height="2" fill="#3a3e41" opacity="0.85"/><rect x="485.2" y="381.6" width="4.4" height="1.3" fill="#4f5356" opacity="0.8"/><rect x="483.4" y="384.6" width="11" height="1.6" fill="#4f5356" opacity="0.75"/><rect x="496.0" y="378.2" width="10.6" height="9.4" fill="#e2e3df" stroke="#a6a9a5" stroke-width="0.4"/><rect x="497.8" y="379.4" width="7" height="0.7" fill="#a3a6a2" opacity="0.8"/><ellipse cx="499.4" cy="384.2" rx="1.25" ry="2" fill="none" stroke="#34383b" stroke-width="0.7"/><rect x="503.0" y="382.2" width="0.9" height="4" fill="#34383b"/><rect x="484.8" y="390.4" width="18.6" height="0.8" fill="#5f6366" opacity="0.7"/><rect x="485.8" y="392.1" width="16.6" height="0.8" fill="#5f6366" opacity="0.6"/>
<circle cx="494.2" cy="358.7" r="1.30" fill="#f29c26"/><path d="M491.71 357.58A3.40 3.40 0 0 1 496.69 357.58" fill="none" stroke="#f6aa44" stroke-width="1.15" opacity="0.95"/><path d="M490.14 356.11A5.55 5.55 0 0 1 498.26 356.11" fill="none" stroke="#f6aa44" stroke-width="1.15" opacity="0.88"/><path d="M488.57 354.65A7.70 7.70 0 0 1 499.83 354.65" fill="none" stroke="#f6aa44" stroke-width="1.15" opacity="0.78"/><path d="M487.00 353.18A9.85 9.85 0 0 1 501.40 353.18" fill="none" stroke="#f6aa44" stroke-width="1.15" opacity="0.62"/><path d="M485.42 351.72A12.00 12.00 0 0 1 502.98 351.72" fill="none" stroke="#f6aa44" stroke-width="1.00" opacity="0.45"/><path d="M483.85 350.25A14.15 14.15 0 0 1 504.55 350.25" fill="none" stroke="#f6aa44" stroke-width="1.00" opacity="0.30"/><path d="M483.40 347.69A16.30 16.30 0 0 1 505.00 347.69" fill="none" stroke="#f6aa44" stroke-width="1.00" opacity="0.18"/><path d="M483.40 344.94A18.45 18.45 0 0 1 505.00 344.94" fill="none" stroke="#f6aa44" stroke-width="1.00" opacity="0.09"/>
<rect x="548.1" y="367.6" width="9.2" height="5" rx="1.8" fill="#e6e4d2"/>
<rect x="534.1" y="370.7" width="38.2" height="28.5" rx="1.8" fill="#aaa796"/><rect x="534.7" y="371.3" width="37.0" height="3.8" rx="1.2" fill="#c0c3bf"/><rect x="535.7" y="375.3" width="35.0" height="19.3" fill="#d6d6d1"/><rect x="535.7" y="394.6" width="35.0" height="3.2" fill="#b9bcb8"/><circle cx="539.5" cy="380.3" r="1.75" fill="#2f3336"/><circle cx="539.5" cy="380.3" r="0.75" fill="#d6d6d1"/><rect x="542.1" y="379.3" width="8.6" height="2" fill="#3a3e41" opacity="0.85"/><rect x="540.5" y="384.7" width="4.4" height="1.3" fill="#4f5356" opacity="0.8"/><rect x="538.7" y="387.7" width="11" height="1.6" fill="#4f5356" opacity="0.75"/><rect x="558.9" y="381.3" width="10.6" height="9.4" fill="#e2e3df" stroke="#a6a9a5" stroke-width="0.4"/><rect x="560.7" y="382.5" width="7" height="0.7" fill="#a3a6a2" opacity="0.8"/><ellipse cx="562.3" cy="387.3" rx="1.25" ry="2" fill="none" stroke="#34383b" stroke-width="0.7"/><rect x="565.9" y="385.3" width="0.9" height="4" fill="#34383b"/><rect x="540.1" y="393.5" width="26.2" height="0.8" fill="#5f6366" opacity="0.7"/><rect x="541.1" y="395.2" width="24.2" height="0.8" fill="#5f6366" opacity="0.6"/>
<circle cx="553" cy="358.9" r="1.30" fill="#f29c26"/><path d="M550.51 357.78A3.40 3.40 0 0 1 555.49 357.78" fill="none" stroke="#f6aa44" stroke-width="1.15" opacity="0.95"/><path d="M548.94 356.31A5.55 5.55 0 0 1 557.06 356.31" fill="none" stroke="#f6aa44" stroke-width="1.15" opacity="0.88"/><path d="M547.37 354.85A7.70 7.70 0 0 1 558.63 354.85" fill="none" stroke="#f6aa44" stroke-width="1.15" opacity="0.78"/><path d="M545.80 353.38A9.85 9.85 0 0 1 560.20 353.38" fill="none" stroke="#f6aa44" stroke-width="1.15" opacity="0.62"/><path d="M544.22 351.92A12.00 12.00 0 0 1 561.78 351.92" fill="none" stroke="#f6aa44" stroke-width="1.00" opacity="0.45"/><path d="M542.65 350.45A14.15 14.15 0 0 1 563.35 350.45" fill="none" stroke="#f6aa44" stroke-width="1.00" opacity="0.30"/><path d="M542.20 347.89A16.30 16.30 0 0 1 563.80 347.89" fill="none" stroke="#f6aa44" stroke-width="1.00" opacity="0.18"/><path d="M542.20 345.14A18.45 18.45 0 0 1 563.80 345.14" fill="none" stroke="#f6aa44" stroke-width="1.00" opacity="0.09"/>
<rect x="617.9" y="380" width="4.8" height="20.4" rx="2" fill="#b4b8bc" stroke="#8a8e92" stroke-width="0.4"/><rect x="619" y="381.4" width="1.2" height="17" fill="#dfe2e4"/><path d="M620.3 400.4V407" stroke="#44474a" stroke-width="0.9"/>
<rect x="624.3" y="364.4" width="33.9" height="32.4" rx="1.8" fill="#b0b3af"/><rect x="624.9" y="365.0" width="32.7" height="3.8" rx="1.2" fill="#c0c3bf"/><rect x="625.9" y="369.0" width="30.7" height="23.2" fill="#dadbd7"/><rect x="625.9" y="392.2" width="30.7" height="3.2" fill="#b9bcb8"/><circle cx="626.6" cy="366.9" r="1.05" fill="#66695f"/><circle cx="655.9" cy="366.9" r="1.05" fill="#66695f"/><circle cx="626.6" cy="394.3" r="1.05" fill="#66695f"/><circle cx="655.9" cy="394.3" r="1.05" fill="#66695f"/><circle cx="629.7" cy="374.0" r="1.75" fill="#2f3336"/><circle cx="629.7" cy="374.0" r="0.75" fill="#dadbd7"/><rect x="632.3" y="373.0" width="8.6" height="2" fill="#3a3e41" opacity="0.85"/><rect x="630.7" y="378.4" width="4.4" height="1.3" fill="#4f5356" opacity="0.8"/><rect x="628.9" y="381.4" width="11" height="1.6" fill="#4f5356" opacity="0.75"/><rect x="644.8" y="375.0" width="10.6" height="9.4" fill="#e2e3df" stroke="#a6a9a5" stroke-width="0.4"/><rect x="646.6" y="376.2" width="7" height="0.7" fill="#a3a6a2" opacity="0.8"/><ellipse cx="648.2" cy="381.0" rx="1.25" ry="2" fill="none" stroke="#34383b" stroke-width="0.7"/><rect x="651.8" y="379.0" width="0.9" height="4" fill="#34383b"/><rect x="630.3" y="387.2" width="21.9" height="0.8" fill="#5f6366" opacity="0.7"/><rect x="631.3" y="388.9" width="19.9" height="0.8" fill="#5f6366" opacity="0.6"/>
<circle cx="641.2" cy="358.7" r="1.30" fill="#f29c26"/><path d="M638.71 357.58A3.40 3.40 0 0 1 643.69 357.58" fill="none" stroke="#f6aa44" stroke-width="1.15" opacity="0.95"/><path d="M637.14 356.11A5.55 5.55 0 0 1 645.26 356.11" fill="none" stroke="#f6aa44" stroke-width="1.15" opacity="0.88"/><path d="M635.57 354.65A7.70 7.70 0 0 1 646.83 354.65" fill="none" stroke="#f6aa44" stroke-width="1.15" opacity="0.78"/><path d="M634.00 353.18A9.85 9.85 0 0 1 648.40 353.18" fill="none" stroke="#f6aa44" stroke-width="1.15" opacity="0.62"/><path d="M632.42 351.72A12.00 12.00 0 0 1 649.98 351.72" fill="none" stroke="#f6aa44" stroke-width="1.00" opacity="0.45"/><path d="M630.85 350.25A14.15 14.15 0 0 1 651.55 350.25" fill="none" stroke="#f6aa44" stroke-width="1.00" opacity="0.30"/><path d="M630.40 347.69A16.30 16.30 0 0 1 652.00 347.69" fill="none" stroke="#f6aa44" stroke-width="1.00" opacity="0.18"/><path d="M630.40 344.94A18.45 18.45 0 0 1 652.00 344.94" fill="none" stroke="#f6aa44" stroke-width="1.00" opacity="0.09"/>
<rect x="631.8" y="396.8" width="3.2" height="4.4" fill="#c4a040"/><path d="M633.4 401.2V407.4" stroke="#3a3a3a" stroke-width="0.8"/><rect x="645.8" y="396.8" width="2.4" height="5.4" fill="#e2382c"/>
<rect x="680.8" y="385.4" width="4.6" height="9.8" rx="0.9" fill="#27282b"/><rect x="681.8" y="383.8" width="2.6" height="2" fill="#55585b"/><path d="M683 395.2L684.6 404.4" stroke="#333" stroke-width="0.8"/>
<rect x="684.9" y="365" width="32.9" height="32.0" rx="1.8" fill="#b0b3af"/><rect x="685.5" y="365.6" width="31.7" height="3.8" rx="1.2" fill="#c0c3bf"/><rect x="686.5" y="369.6" width="29.7" height="22.8" fill="#dadbd7"/><rect x="686.5" y="392.4" width="29.7" height="3.2" fill="#b9bcb8"/><circle cx="687.2" cy="367.5" r="1.05" fill="#66695f"/><circle cx="715.5" cy="367.5" r="1.05" fill="#66695f"/><circle cx="687.2" cy="394.5" r="1.05" fill="#66695f"/><circle cx="715.5" cy="394.5" r="1.05" fill="#66695f"/><circle cx="690.3" cy="374.6" r="1.75" fill="#2f3336"/><circle cx="690.3" cy="374.6" r="0.75" fill="#dadbd7"/><rect x="692.9" y="373.6" width="8.6" height="2" fill="#3a3e41" opacity="0.85"/><rect x="691.3" y="379.0" width="4.4" height="1.3" fill="#4f5356" opacity="0.8"/><rect x="689.5" y="382.0" width="11" height="1.6" fill="#4f5356" opacity="0.75"/><rect x="704.4" y="375.6" width="10.6" height="9.4" fill="#e2e3df" stroke="#a6a9a5" stroke-width="0.4"/><rect x="706.2" y="376.8" width="7" height="0.7" fill="#a3a6a2" opacity="0.8"/><ellipse cx="707.8" cy="381.6" rx="1.25" ry="2" fill="none" stroke="#34383b" stroke-width="0.7"/><rect x="711.4" y="379.6" width="0.9" height="4" fill="#34383b"/><rect x="690.9" y="387.8" width="20.9" height="0.8" fill="#5f6366" opacity="0.7"/><rect x="691.9" y="389.5" width="18.9" height="0.8" fill="#5f6366" opacity="0.6"/>
<circle cx="701.1" cy="358.7" r="1.30" fill="#f29c26"/><path d="M698.61 357.58A3.40 3.40 0 0 1 703.59 357.58" fill="none" stroke="#f6aa44" stroke-width="1.15" opacity="0.95"/><path d="M697.04 356.11A5.55 5.55 0 0 1 705.16 356.11" fill="none" stroke="#f6aa44" stroke-width="1.15" opacity="0.88"/><path d="M695.47 354.65A7.70 7.70 0 0 1 706.73 354.65" fill="none" stroke="#f6aa44" stroke-width="1.15" opacity="0.78"/><path d="M693.90 353.18A9.85 9.85 0 0 1 708.30 353.18" fill="none" stroke="#f6aa44" stroke-width="1.15" opacity="0.62"/><path d="M692.32 351.72A12.00 12.00 0 0 1 709.88 351.72" fill="none" stroke="#f6aa44" stroke-width="1.00" opacity="0.45"/><path d="M690.75 350.25A14.15 14.15 0 0 1 711.45 350.25" fill="none" stroke="#f6aa44" stroke-width="1.00" opacity="0.30"/><path d="M690.30 347.69A16.30 16.30 0 0 1 711.90 347.69" fill="none" stroke="#f6aa44" stroke-width="1.00" opacity="0.18"/><path d="M690.30 344.94A18.45 18.45 0 0 1 711.90 344.94" fill="none" stroke="#f6aa44" stroke-width="1.00" opacity="0.09"/>
<rect x="692.8" y="397" width="3.2" height="4.4" fill="#c4a040"/><path d="M694.4 401.4V407.4" stroke="#3a3a3a" stroke-width="0.8"/><rect x="706.4" y="397" width="2.4" height="5.4" fill="#e2382c"/>
<text x="99.6" y="447.1" font-size="10" text-anchor="middle" fill="#22a0a8">3.6V阀门控制器</text>
<text x="99.6" y="459.1" font-size="10" text-anchor="middle" fill="#22a0a8">DN15/25电动球阀</text>
<text x="199.6" y="447.1" font-size="10" text-anchor="middle" fill="#22a0a8">7.2V阀门控制器</text>
<text x="199.6" y="459.1" font-size="10" text-anchor="middle" fill="#22a0a8">DN50-150脉冲阀</text>
<text x="312.2" y="447.1" font-size="10" text-anchor="middle" fill="#22a0a8">10.8V阀门控制器</text>
<text x="312.2" y="459.1" font-size="10" text-anchor="middle" fill="#22a0a8">DN50-250电动蝶阀</text>
<text x="412.4" y="447.1" font-size="10" text-anchor="middle" fill="#22a0a8">12.8V阀门控制器</text>
<text x="412.4" y="459.1" font-size="10" text-anchor="middle" fill="#22a0a8">DN50-250电动蝶阀</text>
<text x="492.5" y="447.1" font-size="10" text-anchor="middle" fill="#22a0a8">湿度</text>
<text x="492.5" y="459.1" font-size="10" text-anchor="middle" fill="#22a0a8">采集器</text>
<text x="553.5" y="447.1" font-size="10" text-anchor="middle" fill="#22a0a8">光照度</text>
<text x="553.5" y="459.1" font-size="10" text-anchor="middle" fill="#22a0a8">采集器</text>
<text x="644" y="447.1" font-size="10" text-anchor="middle" fill="#22a0a8">液位</text>
<text x="644" y="459.1" font-size="10" text-anchor="middle" fill="#22a0a8">采集器</text>
<text x="704" y="447.1" font-size="10" text-anchor="middle" fill="#22a0a8">压力</text>
<text x="704" y="459.1" font-size="10" text-anchor="middle" fill="#22a0a8">采集器</text>
</svg>
</body></html>
